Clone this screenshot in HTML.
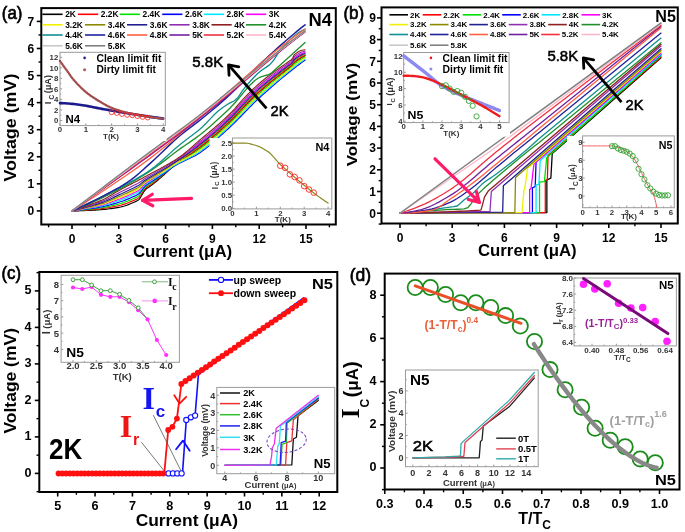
<!DOCTYPE html>
<html><head><meta charset="utf-8"><style>html,body{margin:0;padding:0;background:#fff;}svg{display:block;filter:blur(0.4px);}</style></head>
<body>
<svg width="685" height="532" viewBox="0 0 685 532">
<defs><clipPath id="clipA"><rect x="41.3" y="8.1" width="294.5" height="216.4"/></clipPath><clipPath id="clipB"><rect x="381.5" y="7" width="296.3" height="216.5"/></clipPath></defs>
<rect width="685" height="532" fill="#fff"/>
<g clip-path="url(#clipA)">
<polyline points="72,210.9 73.56,210.89 75.13,210.88 76.69,210.86 78.26,210.82 79.82,210.78 81.39,210.73 82.95,210.68 84.51,210.62 86.08,210.55 87.64,210.48 89.21,210.41 90.77,210.33 92.33,210.25 93.9,210.17 95.46,210.08 97.03,209.99 98.59,209.89 100.16,209.77 101.72,209.64 103.28,209.49 104.85,209.34 106.41,209.17 107.98,208.98 109.54,208.78 111.1,208.57 112.67,208.35 114.23,208.11 115.8,207.86 117.36,207.59 118.93,207.32 120.49,207.02 122.05,206.66 123.62,206.23 125.18,205.73 126.75,205.18 128.31,204.59 129.87,203.97 131.44,203.34 133,202.71 134.57,202.08 136.13,201.37 137.7,200.51 139.26,199.34 140.82,197.03 142.39,194.08 143.95,191.53 145.52,189.59 147.08,188.24 148.65,187.14 150.21,186.15 151.77,185.08 153.34,183.86 154.9,182.59 156.47,181.3 158.03,179.98 159.59,178.63 161.16,177.27 162.72,175.9 164.29,174.47 165.85,173.02 167.42,171.55 168.98,170.11 170.54,168.7 172.11,167.36 173.67,166.09 175.24,164.91 176.8,163.77 178.36,162.66 179.93,161.58 181.49,160.51 183.06,159.44 184.62,158.36 186.19,157.27 187.75,156.17 189.31,155.05 190.88,153.93 192.44,152.8 194.01,151.66 195.57,150.53 197.14,149.4 198.7,148.26 200.26,147.1 201.83,145.91 203.39,144.7 204.96,143.47 206.52,142.22 208.08,140.95 209.65,139.65 211.21,138.35 212.78,137.02 214.34,135.68 215.91,134.32 217.47,132.94 219.03,131.55 220.6,130.15 222.16,128.73 223.73,127.3 225.29,125.85 226.85,124.4 228.42,122.93 229.98,121.45 231.55,119.94 233.11,118.38 234.68,116.77 236.24,115.13 237.8,113.46 239.37,111.78 240.93,110.11 242.5,108.44 244.06,106.79 245.62,105.17 247.19,103.57 248.75,101.97 250.32,100.39 251.88,98.82 253.45,97.28 255.01,95.76 256.57,94.28 258.14,92.83 259.7,91.43 261.27,90.05 262.83,88.7 264.4,87.35 265.96,86.03 267.52,84.72 269.09,83.42 270.65,82.13 272.22,80.86 273.78,79.59 275.34,78.34 276.91,77.1 278.47,75.86 280.04,74.64 281.6,73.42 283.17,72.2 284.73,71 286.29,69.8 287.86,68.6 289.42,67.42 290.99,66.3 292.55,64.82 294.11,62.68 295.68,61.43 297.24,60.27 298.81,59.2 300.37,58.21 301.94,57.31 303.5,56.5 305.06,55.8" stroke="#000000" stroke-width="1.15" fill="none" stroke-linejoin="round" stroke-linecap="round" />
<polyline points="72,210.9 73.56,210.84 75.13,210.78 76.69,210.7 78.26,210.62 79.82,210.53 81.39,210.43 82.95,210.33 84.51,210.22 86.08,210.1 87.64,209.98 89.21,209.86 90.77,209.73 92.33,209.6 93.9,209.48 95.46,209.34 97.03,209.2 98.59,209.05 100.16,208.88 101.72,208.69 103.28,208.49 104.85,208.28 106.41,208.04 107.98,207.79 109.54,207.52 111.1,207.23 112.67,206.94 114.23,206.63 115.8,206.31 117.36,205.98 118.93,205.64 120.49,205.29 122.05,204.88 123.62,204.4 125.18,203.87 126.75,203.29 128.31,202.68 129.87,202.04 131.44,201.4 133,200.75 134.57,200.1 136.13,199.38 137.7,198.52 139.26,197.39 140.82,195.22 142.39,192.49 143.95,190.11 145.52,188.28 147.08,186.98 148.65,185.91 150.21,184.93 151.77,183.88 153.34,182.7 154.9,181.49 156.47,180.25 158.03,178.98 159.59,177.7 161.16,176.4 162.72,175.09 164.29,173.73 165.85,172.35 167.42,170.95 168.98,169.57 170.54,168.22 172.11,166.93 173.67,165.7 175.24,164.54 176.8,163.43 178.36,162.35 179.93,161.29 181.49,160.23 183.06,159.17 184.62,158.1 186.19,157.02 187.75,155.92 189.31,154.81 190.88,153.69 192.44,152.56 194.01,151.43 195.57,150.3 197.14,149.16 198.7,148.01 200.26,146.84 201.83,145.65 203.39,144.44 204.96,143.2 206.52,141.95 208.08,140.68 209.65,139.38 211.21,138.08 212.78,136.75 214.34,135.41 215.91,134.05 217.47,132.68 219.03,131.29 220.6,129.88 222.16,128.47 223.73,127.03 225.29,125.59 226.85,124.14 228.42,122.67 229.98,121.19 231.55,119.68 233.11,118.11 234.68,116.49 236.24,114.85 237.8,113.18 239.37,111.5 240.93,109.81 242.5,108.14 244.06,106.5 245.62,104.88 247.19,103.27 248.75,101.67 250.32,100.09 251.88,98.53 253.45,96.99 255.01,95.47 256.57,93.99 258.14,92.54 259.7,91.14 261.27,89.77 262.83,88.41 264.4,87.07 265.96,85.75 267.52,84.44 269.09,83.15 270.65,81.86 272.22,80.59 273.78,79.34 275.34,78.09 276.91,76.85 278.47,75.62 280.04,74.4 281.6,73.18 283.17,71.97 284.73,70.77 286.29,69.57 287.86,68.38 289.42,67.2 290.99,66.09 292.55,64.6 294.11,62.41 295.68,61.16 297.24,60.01 298.81,58.93 300.37,57.95 301.94,57.07 303.5,56.28 305.06,55.59" stroke="#ff0000" stroke-width="1.15" fill="none" stroke-linejoin="round" stroke-linecap="round" />
<polyline points="72,210.9 73.56,210.79 75.13,210.68 76.69,210.55 78.26,210.42 79.82,210.28 81.39,210.13 82.95,209.97 84.51,209.81 86.08,209.65 87.64,209.48 89.21,209.31 90.77,209.13 92.33,208.96 93.9,208.78 95.46,208.6 97.03,208.41 98.59,208.21 100.16,207.99 101.72,207.75 103.28,207.49 104.85,207.22 106.41,206.91 107.98,206.59 109.54,206.25 111.1,205.89 112.67,205.52 114.23,205.14 115.8,204.75 117.36,204.36 118.93,203.96 120.49,203.55 122.05,203.09 123.62,202.58 125.18,202.01 126.75,201.41 128.31,200.77 129.87,200.11 131.44,199.45 133,198.78 134.57,198.12 136.13,197.39 137.7,196.53 139.26,195.44 140.82,193.42 142.39,190.9 143.95,188.7 145.52,186.98 147.08,185.72 148.65,184.68 150.21,183.71 151.77,182.7 153.34,181.58 154.9,180.44 156.47,179.29 158.03,178.12 159.59,176.95 161.16,175.76 162.72,174.56 164.29,173.32 165.85,172.04 167.42,170.75 168.98,169.47 170.54,168.21 172.11,167 173.67,165.84 175.24,164.77 176.8,163.73 178.36,162.73 179.93,161.76 181.49,160.8 183.06,159.84 184.62,158.88 186.19,157.92 187.75,156.96 189.31,155.98 190.88,154.99 192.44,153.98 194.01,152.96 195.57,151.92 197.14,150.85 198.7,149.76 200.26,148.63 201.83,147.47 203.39,146.28 204.96,145.07 206.52,143.83 208.08,142.57 209.65,141.28 211.21,139.97 212.78,138.64 214.34,137.29 215.91,135.92 217.47,134.54 219.03,133.14 220.6,131.73 222.16,130.31 223.73,128.87 225.29,127.43 226.85,125.97 228.42,124.51 229.98,123.05 231.55,121.55 233.11,120.01 234.68,118.42 236.24,116.81 237.8,115.17 239.37,113.52 240.93,111.86 242.5,110.21 244.06,108.57 245.62,106.95 247.19,105.34 248.75,103.74 250.32,102.16 251.88,100.59 253.45,99.04 255.01,97.52 256.57,96.02 258.14,94.57 259.7,93.15 261.27,91.76 262.83,90.39 264.4,89.03 265.96,87.69 267.52,86.36 269.09,85.03 270.65,83.72 272.22,82.43 273.78,81.14 275.34,79.86 276.91,78.59 278.47,77.33 280.04,76.08 281.6,74.83 283.17,73.6 284.73,72.37 286.29,71.15 287.86,69.93 289.42,68.73 290.99,67.58 292.55,66.17 294.11,64.29 295.68,63.05 297.24,61.88 298.81,60.78 300.37,59.74 301.94,58.76 303.5,57.86 305.06,57.03" stroke="#00e000" stroke-width="1.15" fill="none" stroke-linejoin="round" stroke-linecap="round" />
<polyline points="72,210.9 73.56,210.74 75.13,210.57 76.69,210.4 78.26,210.21 79.82,210.02 81.39,209.83 82.95,209.62 84.51,209.41 86.08,209.2 87.64,208.98 89.21,208.76 90.77,208.54 92.33,208.31 93.9,208.09 95.46,207.86 97.03,207.62 98.59,207.37 100.16,207.1 101.72,206.8 103.28,206.49 104.85,206.16 106.41,205.79 107.98,205.4 109.54,204.99 111.1,204.56 112.67,204.11 114.23,203.66 115.8,203.2 117.36,202.74 118.93,202.28 120.49,201.82 122.05,201.31 123.62,200.75 125.18,200.15 126.75,199.52 128.31,198.86 129.87,198.19 131.44,197.5 133,196.82 134.57,196.13 136.13,195.4 137.7,194.54 139.26,193.48 140.82,191.62 142.39,189.31 143.95,187.28 145.52,185.67 147.08,184.47 148.65,183.45 150.21,182.5 151.77,181.52 153.34,180.48 154.9,179.45 156.47,178.42 158.03,177.4 159.59,176.37 161.16,175.34 162.72,174.3 164.29,173.22 165.85,172.1 167.42,170.95 168.98,169.8 170.54,168.66 172.11,167.57 173.67,166.53 175.24,165.58 176.8,164.67 178.36,163.81 179.93,163 181.49,162.21 183.06,161.45 184.62,160.71 186.19,159.99 187.75,159.27 189.31,158.55 190.88,157.81 192.44,157.05 194.01,156.25 195.57,155.39 197.14,154.48 198.7,153.5 200.26,152.47 201.83,151.38 203.39,150.25 204.96,149.08 206.52,147.86 208.08,146.61 209.65,145.33 211.21,144.02 212.78,142.69 214.34,141.32 215.91,139.94 217.47,138.54 219.03,137.12 220.6,135.69 222.16,134.25 223.73,132.81 225.29,131.36 226.85,129.91 228.42,128.47 229.98,127.02 231.55,125.57 233.11,124.08 234.68,122.56 236.24,121.01 237.8,119.44 239.37,117.85 240.93,116.25 242.5,114.64 244.06,113.02 245.62,111.4 247.19,109.79 248.75,108.18 250.32,106.58 251.88,105 253.45,103.43 255.01,101.89 256.57,100.38 258.14,98.9 259.7,97.46 261.27,96.04 262.83,94.63 264.4,93.23 265.96,91.84 267.52,90.46 269.09,89.08 270.65,87.71 272.22,86.35 273.78,85 275.34,83.65 276.91,82.32 278.47,81 280.04,79.68 281.6,78.38 283.17,77.08 284.73,75.8 286.29,74.52 287.86,73.26 289.42,72 290.99,70.76 292.55,69.53 294.11,68.31 295.68,67.1 297.24,65.91 298.81,64.73 300.37,63.56 301.94,62.4 303.5,61.25 305.06,60.12" stroke="#0000ff" stroke-width="1.15" fill="none" stroke-linejoin="round" stroke-linecap="round" />
<polyline points="72,210.9 73.56,210.69 75.13,210.47 76.69,210.24 78.26,210.01 79.82,209.77 81.39,209.52 82.95,209.27 84.51,209.01 86.08,208.75 87.64,208.48 89.21,208.21 90.77,207.94 92.33,207.67 93.9,207.4 95.46,207.12 97.03,206.83 98.59,206.53 100.16,206.2 101.72,205.86 103.28,205.49 104.85,205.1 106.41,204.66 107.98,204.2 109.54,203.72 111.1,203.22 112.67,202.7 114.23,202.18 115.8,201.65 117.36,201.12 118.93,200.6 120.49,200.08 122.05,199.53 123.62,198.93 125.18,198.3 126.75,197.64 128.31,196.95 129.87,196.26 131.44,195.56 133,194.85 134.57,194.15 136.13,193.4 137.7,192.56 139.26,191.53 140.82,189.82 142.39,187.72 143.95,185.86 145.52,184.36 147.08,183.21 148.65,182.22 150.21,181.28 151.77,180.32 153.34,179.31 154.9,178.31 156.47,177.32 158.03,176.34 159.59,175.35 161.16,174.36 162.72,173.36 164.29,172.32 165.85,171.25 167.42,170.15 168.98,169.04 170.54,167.95 172.11,166.88 173.67,165.87 175.24,164.92 176.8,164.02 178.36,163.15 179.93,162.31 181.49,161.5 183.06,160.71 184.62,159.93 186.19,159.16 187.75,158.38 189.31,157.61 190.88,156.81 192.44,155.99 194.01,155.14 195.57,154.23 197.14,153.27 198.7,152.25 200.26,151.19 201.83,150.08 203.39,148.93 204.96,147.74 206.52,146.52 208.08,145.26 209.65,143.98 211.21,142.67 212.78,141.34 214.34,139.98 215.91,138.6 217.47,137.21 219.03,135.8 220.6,134.37 222.16,132.94 223.73,131.5 225.29,130.05 226.85,128.6 228.42,127.15 229.98,125.7 231.55,124.23 233.11,122.72 234.68,121.18 236.24,119.61 237.8,118.02 239.37,116.41 240.93,114.79 242.5,113.16 244.06,111.54 245.62,109.92 247.19,108.31 248.75,106.7 250.32,105.11 251.88,103.53 253.45,101.97 255.01,100.43 256.57,98.93 258.14,97.46 259.7,96.02 261.27,94.62 262.83,93.22 264.4,91.83 265.96,90.46 267.52,89.09 269.09,87.73 270.65,86.38 272.22,85.04 273.78,83.71 275.34,82.39 276.91,81.08 278.47,79.77 280.04,78.48 281.6,77.2 283.17,75.92 284.73,74.65 286.29,73.4 287.86,72.15 289.42,70.91 290.99,69.7 292.55,68.41 294.11,66.97 295.68,65.75 297.24,64.57 298.81,63.41 300.37,62.28 301.94,61.19 303.5,60.12 305.06,59.09" stroke="#00e8ff" stroke-width="1.15" fill="none" stroke-linejoin="round" stroke-linecap="round" />
<polyline points="72,210.9 73.56,210.65 75.13,210.39 76.69,210.12 78.26,209.85 79.82,209.57 81.39,209.28 82.95,208.99 84.51,208.69 86.08,208.39 87.64,208.08 89.21,207.77 90.77,207.46 92.33,207.15 93.9,206.84 95.46,206.53 97.03,206.2 98.59,205.85 100.16,205.49 101.72,205.1 103.28,204.69 104.85,204.25 106.41,203.76 107.98,203.25 109.54,202.71 111.1,202.15 112.67,201.57 114.23,200.99 115.8,200.41 117.36,199.83 118.93,199.26 120.49,198.69 122.05,198.1 123.62,197.47 125.18,196.81 126.75,196.13 128.31,195.43 129.87,194.72 131.44,194 133,193.28 134.57,192.56 136.13,191.81 137.7,190.97 139.26,189.97 140.82,188.38 142.39,186.45 143.95,184.73 145.52,183.32 147.08,182.21 148.65,181.23 150.21,180.3 151.77,179.33 153.34,178.28 154.9,177.21 156.47,176.13 158.03,175.02 159.59,173.91 161.16,172.78 162.72,171.65 164.29,170.48 165.85,169.3 167.42,168.1 168.98,166.91 170.54,165.73 172.11,164.57 173.67,163.45 175.24,162.35 176.8,161.26 178.36,160.17 179.93,159.08 181.49,157.96 183.06,156.82 184.62,155.64 186.19,154.43 187.75,153.19 189.31,151.93 190.88,150.66 192.44,149.37 194.01,148.09 195.57,146.81 197.14,145.54 198.7,144.27 200.26,143.01 201.83,141.74 203.39,140.47 204.96,139.2 206.52,137.91 208.08,136.63 209.65,135.33 211.21,134.02 212.78,132.7 214.34,131.37 215.91,130.03 217.47,128.68 219.03,127.31 220.6,125.92 222.16,124.52 223.73,123.1 225.29,121.66 226.85,120.2 228.42,118.71 229.98,117.21 231.55,115.66 233.11,114.03 234.68,112.36 236.24,110.64 237.8,108.9 239.37,107.16 240.93,105.43 242.5,103.72 244.06,102.05 245.62,100.43 247.19,98.83 248.75,97.24 250.32,95.67 251.88,94.12 253.45,92.59 255.01,91.09 256.57,89.63 258.14,88.21 259.7,86.83 261.27,85.49 262.83,84.17 264.4,82.87 265.96,81.6 267.52,80.34 269.09,79.1 270.65,77.88 272.22,76.67 273.78,75.48 275.34,74.29 276.91,73.12 278.47,71.95 280.04,70.79 281.6,69.64 283.17,68.49 284.73,67.34 286.29,66.2 287.86,65.05 289.42,63.93 290.99,62.9 292.55,61.24 294.11,58.39 295.68,57.11 297.24,55.98 298.81,54.99 300.37,54.13 301.94,53.43 303.5,52.89 305.06,52.51" stroke="#ff00ff" stroke-width="1.15" fill="none" stroke-linejoin="round" stroke-linecap="round" />
<polyline points="72,210.9 73.56,210.61 75.13,210.31 76.69,210 78.26,209.69 79.82,209.37 81.39,209.04 82.95,208.71 84.51,208.37 86.08,208.02 87.64,207.68 89.21,207.33 90.77,206.98 92.33,206.64 93.9,206.29 95.46,205.93 97.03,205.57 98.59,205.18 100.16,204.78 101.72,204.35 103.28,203.89 104.85,203.4 106.41,202.86 107.98,202.29 109.54,201.69 111.1,201.07 112.67,200.44 114.23,199.8 115.8,199.16 117.36,198.53 118.93,197.92 120.49,197.31 122.05,196.67 123.62,196.01 125.18,195.32 126.75,194.62 128.31,193.9 129.87,193.17 131.44,192.44 133,191.71 134.57,190.98 136.13,190.21 137.7,189.38 139.26,188.41 140.82,186.93 142.39,185.18 143.95,183.59 145.52,182.27 147.08,181.2 148.65,180.25 150.21,179.33 151.77,178.4 153.34,177.45 154.9,176.52 156.47,175.6 158.03,174.69 159.59,173.78 161.16,172.87 162.72,171.95 164.29,171 165.85,170.02 167.42,169.01 168.98,167.99 170.54,166.98 172.11,165.97 173.67,165.01 175.24,164.09 176.8,163.21 178.36,162.35 179.93,161.51 181.49,160.69 183.06,159.87 184.62,159.06 186.19,158.26 187.75,157.44 189.31,156.62 190.88,155.79 192.44,154.92 194.01,154.02 195.57,153.07 197.14,152.06 198.7,151.01 200.26,149.91 201.83,148.78 203.39,147.61 204.96,146.41 206.52,145.17 208.08,143.92 209.65,142.63 211.21,141.32 212.78,139.99 214.34,138.63 215.91,137.26 217.47,135.87 219.03,134.47 220.6,133.05 222.16,131.62 223.73,130.18 225.29,128.74 226.85,127.29 228.42,125.83 229.98,124.37 231.55,122.89 233.11,121.36 234.68,119.8 236.24,118.21 237.8,116.59 239.37,114.96 240.93,113.33 242.5,111.69 244.06,110.06 245.62,108.44 247.19,106.83 248.75,105.22 250.32,103.63 251.88,102.06 253.45,100.5 255.01,98.98 256.57,97.48 258.14,96.01 259.7,94.59 261.27,93.19 262.83,91.81 264.4,90.43 265.96,89.07 267.52,87.72 269.09,86.38 270.65,85.05 272.22,83.73 273.78,82.42 275.34,81.12 276.91,79.83 278.47,78.55 280.04,77.28 281.6,76.01 283.17,74.76 284.73,73.51 286.29,72.27 287.86,71.04 289.42,69.82 290.99,68.64 292.55,67.29 294.11,65.63 295.68,64.4 297.24,63.23 298.81,62.09 300.37,61.01 301.94,59.97 303.5,58.99 305.06,58.06" stroke="#f0f000" stroke-width="1.15" fill="none" stroke-linejoin="round" stroke-linecap="round" />
<polyline points="72,210.9 73.56,210.57 75.13,210.23 76.69,209.88 78.26,209.52 79.82,209.16 81.39,208.8 82.95,208.42 84.51,208.05 86.08,207.66 87.64,207.28 89.21,206.89 90.77,206.5 92.33,206.12 93.9,205.73 95.46,205.34 97.03,204.93 98.59,204.51 100.16,204.06 101.72,203.59 103.28,203.09 104.85,202.55 106.41,201.96 107.98,201.34 109.54,200.68 111.1,200 112.67,199.31 114.23,198.62 115.8,197.92 117.36,197.24 118.93,196.57 120.49,195.92 122.05,195.24 123.62,194.55 125.18,193.84 126.75,193.11 128.31,192.37 129.87,191.63 131.44,190.88 133,190.14 134.57,189.39 136.13,188.62 137.7,187.79 139.26,186.85 140.82,185.49 142.39,183.91 143.95,182.46 145.52,181.23 147.08,180.2 148.65,179.26 150.21,178.35 151.77,177.43 153.34,176.48 154.9,175.52 156.47,174.57 158.03,173.62 159.59,172.67 161.16,171.71 162.72,170.74 164.29,169.74 165.85,168.73 167.42,167.69 168.98,166.65 170.54,165.61 172.11,164.58 173.67,163.57 175.24,162.58 176.8,161.6 178.36,160.63 179.93,159.67 181.49,158.69 183.06,157.69 184.62,156.67 186.19,155.63 187.75,154.57 189.31,153.5 190.88,152.4 192.44,151.29 194.01,150.16 195.57,149.01 197.14,147.83 198.7,146.64 200.26,145.44 201.83,144.22 203.39,142.98 204.96,141.73 206.52,140.47 208.08,139.19 209.65,137.9 211.21,136.59 212.78,135.27 214.34,133.93 215.91,132.58 217.47,131.21 219.03,129.83 220.6,128.43 222.16,127.02 223.73,125.59 225.29,124.15 226.85,122.69 228.42,121.22 229.98,119.73 231.55,118.2 233.11,116.61 234.68,114.98 236.24,113.3 237.8,111.61 239.37,109.91 240.93,108.21 242.5,106.52 244.06,104.86 245.62,103.25 247.19,101.64 248.75,100.05 250.32,98.47 251.88,96.91 253.45,95.37 255.01,93.87 256.57,92.39 258.14,90.95 259.7,89.56 261.27,88.2 262.83,86.86 264.4,85.53 265.96,84.23 267.52,82.94 269.09,81.66 270.65,80.4 272.22,79.16 273.78,77.92 275.34,76.7 276.91,75.48 278.47,74.27 280.04,73.07 281.6,71.88 283.17,70.7 284.73,69.51 286.29,68.34 287.86,67.16 289.42,66 290.99,64.92 292.55,63.37 294.11,60.94 295.68,59.67 297.24,58.53 298.81,57.49 300.37,56.55 301.94,55.73 303.5,55.03 305.06,54.46" stroke="#8a8a00" stroke-width="1.15" fill="none" stroke-linejoin="round" stroke-linecap="round" />
<polyline points="72,210.9 73.56,210.51 75.13,210.12 76.69,209.72 78.26,209.32 79.82,208.91 81.39,208.49 82.95,208.07 84.51,207.64 86.08,207.21 87.64,206.77 89.21,206.34 90.77,205.91 92.33,205.47 93.9,205.04 95.46,204.6 97.03,204.14 98.59,203.67 100.16,203.17 101.72,202.65 103.28,202.09 104.85,201.49 106.41,200.84 107.98,200.14 109.54,199.42 111.1,198.67 112.67,197.9 114.23,197.13 115.8,196.37 117.36,195.62 118.93,194.89 120.49,194.18 122.05,193.46 123.62,192.73 125.18,191.98 126.75,191.23 128.31,190.47 129.87,189.7 131.44,188.94 133,188.17 134.57,187.41 136.13,186.63 137.7,185.8 139.26,184.9 140.82,183.69 142.39,182.32 143.95,181.04 145.52,179.92 147.08,178.94 148.65,178.03 150.21,177.14 151.77,176.23 153.34,175.31 154.9,174.39 156.47,173.48 158.03,172.57 159.59,171.66 161.16,170.74 162.72,169.81 164.29,168.87 165.85,167.9 167.42,166.92 168.98,165.92 170.54,164.92 172.11,163.92 173.67,162.94 175.24,161.96 176.8,160.99 178.36,160.01 179.93,159.03 181.49,158.03 183.06,157 184.62,155.95 186.19,154.87 187.75,153.77 189.31,152.64 190.88,151.5 192.44,150.34 194.01,149.16 195.57,147.96 197.14,146.75 198.7,145.52 200.26,144.29 201.83,143.04 203.39,141.79 204.96,140.53 206.52,139.26 208.08,137.98 209.65,136.68 211.21,135.37 212.78,134.05 214.34,132.72 215.91,131.37 217.47,130.01 219.03,128.63 220.6,127.24 222.16,125.83 223.73,124.41 225.29,122.97 226.85,121.51 228.42,120.03 229.98,118.54 231.55,117 233.11,115.39 234.68,113.74 236.24,112.04 237.8,110.33 239.37,108.61 240.93,106.89 242.5,105.19 244.06,103.53 245.62,101.91 247.19,100.31 248.75,98.72 250.32,97.14 251.88,95.59 253.45,94.06 255.01,92.55 256.57,91.09 258.14,89.65 259.7,88.27 261.27,86.91 262.83,85.58 264.4,84.27 265.96,82.98 267.52,81.71 269.09,80.45 270.65,79.21 272.22,77.98 273.78,76.76 275.34,75.56 276.91,74.36 278.47,73.17 280.04,71.99 281.6,70.82 283.17,69.65 284.73,68.49 286.29,67.32 287.86,66.16 289.42,65.02 290.99,63.97 292.55,62.36 294.11,59.73 295.68,58.46 297.24,57.32 298.81,56.3 300.37,55.41 301.94,54.64 303.5,54.02 305.06,53.54" stroke="#202090" stroke-width="1.15" fill="none" stroke-linejoin="round" stroke-linecap="round" />
<polyline points="72,210.9 73.56,210.45 75.13,210 76.69,209.54 78.26,209.08 79.82,208.61 81.39,208.13 82.95,207.65 84.51,207.16 86.08,206.67 87.64,206.17 89.21,205.68 90.77,205.19 92.33,204.7 93.9,204.21 95.46,203.71 97.03,203.19 98.59,202.66 100.16,202.1 101.72,201.51 103.28,200.89 104.85,200.22 106.41,199.49 107.98,198.71 109.54,197.9 111.1,197.06 112.67,196.21 114.23,195.35 115.8,194.5 117.36,193.68 118.93,192.88 120.49,192.1 122.05,191.32 123.62,190.54 125.18,189.75 126.75,188.96 128.31,188.18 129.87,187.39 131.44,186.6 133,185.82 134.57,185.03 136.13,184.24 137.7,183.42 139.26,182.55 140.82,181.53 142.39,180.41 143.95,179.34 145.52,178.35 147.08,177.44 148.65,176.55 150.21,175.67 151.77,174.79 153.34,173.89 154.9,173 156.47,172.11 158.03,171.21 159.59,170.32 161.16,169.42 162.72,168.51 164.29,167.59 165.85,166.65 167.42,165.7 168.98,164.74 170.54,163.77 172.11,162.79 173.67,161.8 175.24,160.81 176.8,159.8 178.36,158.78 179.93,157.73 181.49,156.65 183.06,155.52 184.62,154.35 186.19,153.14 187.75,151.9 189.31,150.63 190.88,149.34 192.44,148.04 194.01,146.73 195.57,145.41 197.14,144.09 198.7,142.77 200.26,141.47 201.83,140.18 203.39,138.89 204.96,137.59 206.52,136.3 208.08,135.01 209.65,133.71 211.21,132.4 212.78,131.09 214.34,129.76 215.91,128.43 217.47,127.08 219.03,125.72 220.6,124.34 222.16,122.94 223.73,121.52 225.29,120.08 226.85,118.62 228.42,117.13 229.98,115.62 231.55,114.05 233.11,112.41 234.68,110.7 236.24,108.96 237.8,107.2 239.37,105.43 240.93,103.67 242.5,101.94 244.06,100.27 245.62,98.65 247.19,97.05 248.75,95.46 250.32,93.9 251.88,92.35 253.45,90.83 255.01,89.34 256.57,87.89 258.14,86.48 259.7,85.11 261.27,83.78 262.83,82.47 264.4,81.19 265.96,79.94 267.52,78.7 269.09,77.49 270.65,76.29 272.22,75.1 273.78,73.93 275.34,72.77 276.91,71.62 278.47,70.48 280.04,69.35 281.6,68.22 283.17,67.1 284.73,65.97 286.29,64.85 287.86,63.72 289.42,62.62 290.99,61.63 292.55,59.89 294.11,56.78 295.68,55.49 297.24,54.37 298.81,53.41 300.37,52.61 301.94,51.98 303.5,51.53 305.06,51.27" stroke="#9030b0" stroke-width="1.15" fill="none" stroke-linejoin="round" stroke-linecap="round" />
<polyline points="72,210.9 73.56,210.38 75.13,209.86 76.69,209.33 78.26,208.79 79.82,208.25 81.39,207.71 82.95,207.15 84.51,206.6 86.08,206.04 87.64,205.47 89.21,204.91 90.77,204.35 92.33,203.8 93.9,203.24 95.46,202.67 97.03,202.09 98.59,201.48 100.16,200.85 101.72,200.19 103.28,199.49 104.85,198.73 106.41,197.91 107.98,197.04 109.54,196.12 111.1,195.18 112.67,194.23 114.23,193.27 115.8,192.33 117.36,191.41 118.93,190.53 120.49,189.67 122.05,188.82 123.62,187.98 125.18,187.15 126.75,186.32 128.31,185.5 129.87,184.69 131.44,183.88 133,183.07 134.57,182.26 136.13,181.45 137.7,180.64 139.26,179.82 140.82,179 142.39,178.18 143.95,177.36 145.52,176.52 147.08,175.68 148.65,174.83 150.21,173.97 151.77,173.11 153.34,172.26 154.9,171.41 156.47,170.57 158.03,169.73 159.59,168.89 161.16,168.04 162.72,167.19 164.29,166.33 165.85,165.46 167.42,164.58 168.98,163.68 170.54,162.76 172.11,161.83 173.67,160.87 175.24,159.89 176.8,158.88 178.36,157.84 179.93,156.78 181.49,155.66 183.06,154.48 184.62,153.25 186.19,151.97 187.75,150.66 189.31,149.31 190.88,147.94 192.44,146.56 194.01,145.17 195.57,143.78 197.14,142.4 198.7,141.03 200.26,139.68 201.83,138.35 203.39,137.04 204.96,135.72 206.52,134.42 208.08,133.12 209.65,131.81 211.21,130.51 212.78,129.2 214.34,127.88 215.91,126.55 217.47,125.21 219.03,123.86 220.6,122.49 222.16,121.1 223.73,119.68 225.29,118.25 226.85,116.78 228.42,115.29 229.98,113.76 231.55,112.17 233.11,110.51 234.68,108.77 236.24,107 237.8,105.2 239.37,103.4 240.93,101.62 242.5,99.88 244.06,98.19 245.62,96.57 247.19,94.98 248.75,93.39 250.32,91.83 251.88,90.29 253.45,88.78 255.01,87.3 256.57,85.86 258.14,84.45 259.7,83.09 261.27,81.78 262.83,80.49 264.4,79.23 265.96,78 267.52,76.79 269.09,75.6 270.65,74.43 272.22,73.27 273.78,72.13 275.34,71 276.91,69.88 278.47,68.77 280.04,67.67 281.6,66.57 283.17,65.47 284.73,64.37 286.29,63.27 287.86,62.17 289.42,61.09 290.99,60.14 292.55,58.32 294.11,54.91 295.68,53.6 297.24,52.49 298.81,51.56 300.37,50.82 301.94,50.28 303.5,49.95 305.06,49.83" stroke="#902020" stroke-width="1.15" fill="none" stroke-linejoin="round" stroke-linecap="round" />
<polyline points="72,210.9 76.94,208.97 81.88,206.96 86.82,204.87 91.76,202.7 96.7,200.45 101.64,198.12 106.58,195.71 111.52,193.23 116.46,190.67 121.4,188.03 126.34,185.32 131.28,182.52 136.22,179.63 141.16,176.66 146.1,173.59 151.04,170.43 155.98,167.02 160.92,163.39 165.86,159.61 170.8,155.79 175.74,152.02 180.68,148.39 185.62,144.95 190.56,141.59 195.5,138.14 200.44,134.43 205.38,130.43 210.32,126.22 215.26,121.83 220.2,117.31 225.14,112.68 230.08,107.98 235.02,102.76 239.96,96.89 244.9,90.89 249.84,85.28 254.78,80.57 259.72,77.3 264.66,75.55 267.78,75.01 271.68,72.84 305.06,42.52" stroke="#20902a" stroke-width="1.3" fill="none" stroke-linejoin="round" stroke-linecap="round" />
<polyline points="72,210.9 75.95,209.12 79.9,207.3 83.85,205.46 87.8,203.59 91.75,201.69 95.7,199.76 99.65,197.8 103.6,195.81 107.55,193.82 111.5,191.84 115.45,189.86 119.4,187.88 123.35,185.86 127.3,183.79 131.25,181.67 135.2,179.47 139.15,177.18 143.1,174.78 147.05,172.26 151,169.6 154.95,166.62 158.91,163.34 162.86,159.85 166.81,156.24 170.76,152.61 174.71,149.05 178.66,145.64 182.61,142.48 186.56,139.49 190.51,136.57 194.46,133.59 198.41,130.43 202.36,126.93 206.31,122.98 210.26,118.83 214.21,114.76 218.16,111.06 222.11,107.96 226.06,105.29 230.01,102.9 233.96,101.03 237.91,97.65 241.86,91.53 245.81,86.4 249.76,81.77 253.71,77.46 257.66,73.55 261.61,70.21 265.56,67.63 269.51,64.86 273.46,60.55 277.41,54.38 281.36,48.63 285.31,44.42 289.26,40.46 293.21,36.84 297.16,33.65 301.11,31 305.06,28.99" stroke="#109090" stroke-width="1.3" fill="none" stroke-linejoin="round" stroke-linecap="round" />
<polyline points="72,210.9 75.95,209.19 79.9,207.43 83.85,205.61 87.8,203.74 91.75,201.82 95.7,199.86 99.65,197.85 103.6,195.8 107.55,193.74 111.5,191.66 115.45,189.52 119.4,187.29 123.35,184.94 127.3,182.43 131.25,179.71 135.2,176.65 139.15,173.3 143.1,169.77 147.05,166.18 151,162.63 154.95,159 158.91,155.25 162.86,151.45 166.81,147.64 170.76,143.88 174.71,140.23 178.66,136.75 182.61,133.47 186.56,130.4 190.51,127.43 194.46,124.47 198.41,121.42 202.36,118.24 206.31,115.02 210.26,111.76 214.21,108.45 218.16,105.08 222.11,101.64 226.06,98.13 230.01,94.52 233.96,90.74 237.91,86.78 241.86,82.7 245.81,78.55 249.76,74.41 253.71,70.34 257.66,66.4 261.61,62.65 265.56,58.96 269.51,55.31 273.46,51.71 277.41,48.16 281.36,44.65 285.31,41.19 289.26,37.8 293.21,34.45 297.16,31.17 301.11,27.95 305.06,24.79" stroke="#2020a0" stroke-width="1.5" fill="none" stroke-linejoin="round" stroke-linecap="round" />
<polyline points="72,210.9 77.98,207.17 83.95,203.39 89.93,199.56 95.9,195.68 101.88,191.75 107.86,187.77 113.83,183.79 119.81,179.77 125.78,175.71 131.76,171.58 137.74,167.37 143.71,163.06 149.69,158.62 155.66,154.03 161.64,149.29 167.62,144.43 173.59,139.46 179.57,134.41 185.54,129.31 191.52,124.18 197.5,119.05 203.47,113.9 209.45,108.68 215.42,103.39 221.4,98.07 227.38,92.78 233.35,87.51 239.33,82.24 245.3,76.96 251.28,71.72 257.26,66.52 263.23,61.38 269.21,56.24 275.18,51.22 281.16,46.46 287.14,41.9 293.11,37.5 299.09,33.29 305.06,29.26" stroke="#ff6040" stroke-width="1.3" fill="none" stroke-linejoin="round" stroke-linecap="round" />
<polyline points="72,210.9 77.98,206.72 83.95,202.52 89.93,198.31 95.9,194.08 101.88,189.84 107.86,185.58 113.83,181.3 119.81,177.01 125.78,172.71 131.76,168.39 137.74,164.06 143.71,159.72 149.69,155.36 155.66,151.01 161.64,146.65 167.62,142.29 173.59,137.9 179.57,133.48 185.54,129.02 191.52,124.51 197.5,119.93 203.47,115.27 209.45,110.53 215.42,105.71 221.4,100.83 227.38,95.89 233.35,90.9 239.33,85.8 245.3,80.63 251.28,75.46 257.26,70.33 263.23,65.29 269.21,60.28 275.18,55.33 281.16,50.48 287.14,45.72 293.11,41.02 299.09,36.4 305.06,31.86" stroke="#7020a0" stroke-width="1.3" fill="none" stroke-linejoin="round" stroke-linecap="round" />
<polyline points="72,210.9 77.98,206.59 83.95,202.27 89.93,197.95 95.9,193.62 101.88,189.27 107.86,184.92 113.83,180.57 119.81,176.2 125.78,171.83 131.76,167.45 137.74,163.07 143.71,158.68 149.69,154.28 155.66,149.89 161.64,145.52 167.62,141.15 173.59,136.77 179.57,132.37 185.54,127.92 191.52,123.42 197.5,118.84 203.47,114.19 209.45,109.43 215.42,104.6 221.4,99.71 227.38,94.79 233.35,89.85 239.33,84.83 245.3,79.76 251.28,74.69 257.26,69.65 263.23,64.66 269.21,59.69 275.18,54.76 281.16,49.95 287.14,45.23 293.11,40.58 299.09,36.02 305.06,31.53" stroke="#f03040" stroke-width="1.3" fill="none" stroke-linejoin="round" stroke-linecap="round" />
<polyline points="72,210.9 77.98,206.46 83.95,202.02 89.93,197.59 95.9,193.15 101.88,188.71 107.86,184.27 113.83,179.83 119.81,175.4 125.78,170.96 131.76,166.52 137.74,162.08 143.71,157.64 149.69,153.2 155.66,148.78 161.64,144.4 167.62,140.02 173.59,135.65 179.57,131.25 185.54,126.82 191.52,122.33 197.5,117.76 203.47,113.1 209.45,108.34 215.42,103.49 221.4,98.6 227.38,93.69 233.35,88.79 239.33,83.85 245.3,78.89 251.28,73.92 257.26,68.97 263.23,64.04 269.21,59.09 275.18,54.2 281.16,49.42 287.14,44.74 293.11,40.14 299.09,35.63 305.06,31.21" stroke="#ffb8c8" stroke-width="1.3" fill="none" stroke-linejoin="round" stroke-linecap="round" />
<polyline points="72,210.9 77.98,206.37 83.95,201.84 89.93,197.31 95.9,192.8 101.88,188.29 107.86,183.78 113.83,179.28 119.81,174.79 125.78,170.3 131.76,165.82 137.74,161.34 143.71,156.86 149.69,152.39 155.66,147.95 161.64,143.55 167.62,139.18 173.59,134.8 179.57,130.41 185.54,125.99 191.52,121.51 197.5,116.95 203.47,112.29 209.45,107.51 215.42,102.66 221.4,97.76 227.38,92.87 233.35,88 239.33,83.13 245.3,78.24 251.28,73.35 257.26,68.46 263.23,63.57 269.21,58.65 275.18,53.77 281.16,49.02 287.14,44.38 293.11,39.82 299.09,35.34 305.06,30.97" stroke="#c8c8c8" stroke-width="1.3" fill="none" stroke-linejoin="round" stroke-linecap="round" />
<polyline points="72,210.9 77.98,206.33 83.95,201.77 89.93,197.22 95.9,192.68 101.88,188.15 107.86,183.62 113.83,179.1 119.81,174.59 125.78,170.08 131.76,165.58 137.74,161.09 143.71,156.6 149.69,152.12 155.66,147.67 161.64,143.27 167.62,138.89 173.59,134.52 179.57,130.14 185.54,125.71 191.52,121.23 197.5,116.68 203.47,112.02 209.45,107.24 215.42,102.38 221.4,97.49 227.38,92.6 233.35,87.74 239.33,82.88 245.3,78.02 251.28,73.16 257.26,68.29 263.23,63.42 269.21,58.5 275.18,53.63 281.16,48.88 287.14,44.25 293.11,39.71 299.09,35.25 305.06,30.88" stroke="#808080" stroke-width="1.3" fill="none" stroke-linejoin="round" stroke-linecap="round" />
</g>
<rect x="42" y="51" width="124.5" height="90" fill="#fff"/>
<rect x="209.5" y="138" width="124.2" height="85.3" fill="#fff"/>
<rect x="41.3" y="8.1" width="294.5" height="216.4" stroke="#000" stroke-width="2" fill="none"/>
<line x1="72" y1="224.5" x2="72" y2="229" stroke="#000" stroke-width="1.6" />
<line x1="118.8" y1="224.5" x2="118.8" y2="229" stroke="#000" stroke-width="1.6" />
<line x1="165.6" y1="224.5" x2="165.6" y2="229" stroke="#000" stroke-width="1.6" />
<line x1="212.4" y1="224.5" x2="212.4" y2="229" stroke="#000" stroke-width="1.6" />
<line x1="259.2" y1="224.5" x2="259.2" y2="229" stroke="#000" stroke-width="1.6" />
<line x1="306" y1="224.5" x2="306" y2="229" stroke="#000" stroke-width="1.6" />
<line x1="48.6" y1="224.5" x2="48.6" y2="227.3" stroke="#000" stroke-width="1.4" />
<line x1="95.4" y1="224.5" x2="95.4" y2="227.3" stroke="#000" stroke-width="1.4" />
<line x1="142.2" y1="224.5" x2="142.2" y2="227.3" stroke="#000" stroke-width="1.4" />
<line x1="189" y1="224.5" x2="189" y2="227.3" stroke="#000" stroke-width="1.4" />
<line x1="235.8" y1="224.5" x2="235.8" y2="227.3" stroke="#000" stroke-width="1.4" />
<line x1="282.6" y1="224.5" x2="282.6" y2="227.3" stroke="#000" stroke-width="1.4" />
<line x1="329.4" y1="224.5" x2="329.4" y2="227.3" stroke="#000" stroke-width="1.4" />
<line x1="41.3" y1="210.9" x2="36.8" y2="210.9" stroke="#000" stroke-width="1.6" />
<line x1="41.3" y1="183.83" x2="36.8" y2="183.83" stroke="#000" stroke-width="1.6" />
<line x1="41.3" y1="156.76" x2="36.8" y2="156.76" stroke="#000" stroke-width="1.6" />
<line x1="41.3" y1="129.69" x2="36.8" y2="129.69" stroke="#000" stroke-width="1.6" />
<line x1="41.3" y1="102.62" x2="36.8" y2="102.62" stroke="#000" stroke-width="1.6" />
<line x1="41.3" y1="75.55" x2="36.8" y2="75.55" stroke="#000" stroke-width="1.6" />
<line x1="41.3" y1="48.48" x2="36.8" y2="48.48" stroke="#000" stroke-width="1.6" />
<line x1="41.3" y1="21.41" x2="36.8" y2="21.41" stroke="#000" stroke-width="1.6" />
<line x1="41.3" y1="197.37" x2="38.5" y2="197.37" stroke="#000" stroke-width="1.4" />
<line x1="41.3" y1="170.3" x2="38.5" y2="170.3" stroke="#000" stroke-width="1.4" />
<line x1="41.3" y1="143.23" x2="38.5" y2="143.23" stroke="#000" stroke-width="1.4" />
<line x1="41.3" y1="116.16" x2="38.5" y2="116.16" stroke="#000" stroke-width="1.4" />
<line x1="41.3" y1="89.09" x2="38.5" y2="89.09" stroke="#000" stroke-width="1.4" />
<line x1="41.3" y1="62.02" x2="38.5" y2="62.02" stroke="#000" stroke-width="1.4" />
<line x1="41.3" y1="34.94" x2="38.5" y2="34.94" stroke="#000" stroke-width="1.4" />
<text x="72" y="242.6" font-size="12" font-family="Liberation Sans" font-weight="bold" fill="#000" text-anchor="middle" >0</text>
<text x="118.8" y="242.6" font-size="12" font-family="Liberation Sans" font-weight="bold" fill="#000" text-anchor="middle" >3</text>
<text x="165.6" y="242.6" font-size="12" font-family="Liberation Sans" font-weight="bold" fill="#000" text-anchor="middle" >6</text>
<text x="212.4" y="242.6" font-size="12" font-family="Liberation Sans" font-weight="bold" fill="#000" text-anchor="middle" >9</text>
<text x="259.2" y="242.6" font-size="12" font-family="Liberation Sans" font-weight="bold" fill="#000" text-anchor="middle" >12</text>
<text x="306" y="242.6" font-size="12" font-family="Liberation Sans" font-weight="bold" fill="#000" text-anchor="middle" >15</text>
<text x="34.2" y="215.2" font-size="12" font-family="Liberation Sans" font-weight="bold" fill="#000" text-anchor="end" >0</text>
<text x="34.2" y="188.13" font-size="12" font-family="Liberation Sans" font-weight="bold" fill="#000" text-anchor="end" >1</text>
<text x="34.2" y="161.06" font-size="12" font-family="Liberation Sans" font-weight="bold" fill="#000" text-anchor="end" >2</text>
<text x="34.2" y="133.99" font-size="12" font-family="Liberation Sans" font-weight="bold" fill="#000" text-anchor="end" >3</text>
<text x="34.2" y="106.92" font-size="12" font-family="Liberation Sans" font-weight="bold" fill="#000" text-anchor="end" >4</text>
<text x="34.2" y="79.85" font-size="12" font-family="Liberation Sans" font-weight="bold" fill="#000" text-anchor="end" >5</text>
<text x="34.2" y="52.78" font-size="12" font-family="Liberation Sans" font-weight="bold" fill="#000" text-anchor="end" >6</text>
<text x="34.2" y="25.71" font-size="12" font-family="Liberation Sans" font-weight="bold" fill="#000" text-anchor="end" >7</text>
<text x="132.9" y="257.4" font-size="16" font-family="Liberation Sans" font-weight="bold" fill="#000" textLength="99.3" lengthAdjust="spacingAndGlyphs" >Current (&#956;A)</text>
<text x="15.8" y="127.6" font-size="16" font-family="Liberation Sans" font-weight="bold" fill="#000" text-anchor="middle" textLength="107.9" lengthAdjust="spacingAndGlyphs" transform="rotate(-90 15.8 127.6)" >Voltage (mV)</text>
<text x="1.8" y="18.6" font-size="18.5" font-family="Liberation Sans" font-weight="normal" fill="#000" textLength="20.6" lengthAdjust="spacingAndGlyphs" stroke="#000" stroke-width="0.7">(a)</text>
<text x="308.5" y="26.3" font-size="18.5" font-family="Liberation Sans" font-weight="bold" fill="#000" textLength="23.5" lengthAdjust="spacingAndGlyphs" >N4</text>
<line x1="42.4" y1="14.3" x2="62.6" y2="14.3" stroke="#000000" stroke-width="1.6" />
<text x="65.2" y="17.32" font-size="8.4" font-family="Liberation Sans" font-weight="bold" fill="#000" >2K</text>
<line x1="78" y1="14.3" x2="98.2" y2="14.3" stroke="#ff0000" stroke-width="1.6" />
<text x="100.8" y="17.32" font-size="8.4" font-family="Liberation Sans" font-weight="bold" fill="#000" >2.2K</text>
<line x1="119.7" y1="14.3" x2="139.9" y2="14.3" stroke="#00e000" stroke-width="1.6" />
<text x="142.5" y="17.32" font-size="8.4" font-family="Liberation Sans" font-weight="bold" fill="#000" >2.4K</text>
<line x1="162.2" y1="14.3" x2="182.4" y2="14.3" stroke="#0000ff" stroke-width="1.6" />
<text x="185" y="17.32" font-size="8.4" font-family="Liberation Sans" font-weight="bold" fill="#000" >2.6K</text>
<line x1="203.8" y1="14.3" x2="224" y2="14.3" stroke="#00e8ff" stroke-width="1.6" />
<text x="226.6" y="17.32" font-size="8.4" font-family="Liberation Sans" font-weight="bold" fill="#000" >2.8K</text>
<line x1="246" y1="14.3" x2="266.2" y2="14.3" stroke="#ff00ff" stroke-width="1.6" />
<text x="268.8" y="17.32" font-size="8.4" font-family="Liberation Sans" font-weight="bold" fill="#000" >3K</text>
<line x1="42.4" y1="24.8" x2="62.6" y2="24.8" stroke="#f0f000" stroke-width="1.6" />
<text x="65.2" y="27.82" font-size="8.4" font-family="Liberation Sans" font-weight="bold" fill="#000" >3.2K</text>
<line x1="85" y1="24.8" x2="105.2" y2="24.8" stroke="#8a8a00" stroke-width="1.6" />
<text x="107.8" y="27.82" font-size="8.4" font-family="Liberation Sans" font-weight="bold" fill="#000" >3.4K</text>
<line x1="127" y1="24.8" x2="147.2" y2="24.8" stroke="#202090" stroke-width="1.6" />
<text x="149.8" y="27.82" font-size="8.4" font-family="Liberation Sans" font-weight="bold" fill="#000" >3.6K</text>
<line x1="169.4" y1="24.8" x2="189.6" y2="24.8" stroke="#9030b0" stroke-width="1.6" />
<text x="192.2" y="27.82" font-size="8.4" font-family="Liberation Sans" font-weight="bold" fill="#000" >3.8K</text>
<line x1="211.5" y1="24.8" x2="231.7" y2="24.8" stroke="#902020" stroke-width="1.6" />
<text x="234.3" y="27.82" font-size="8.4" font-family="Liberation Sans" font-weight="bold" fill="#000" >4K</text>
<line x1="246" y1="24.8" x2="266.2" y2="24.8" stroke="#20902a" stroke-width="1.6" />
<text x="268.8" y="27.82" font-size="8.4" font-family="Liberation Sans" font-weight="bold" fill="#000" >4.2K</text>
<line x1="42.4" y1="35" x2="62.6" y2="35" stroke="#109090" stroke-width="1.6" />
<text x="65.2" y="38.02" font-size="8.4" font-family="Liberation Sans" font-weight="bold" fill="#000" >4.4K</text>
<line x1="85" y1="35" x2="105.2" y2="35" stroke="#2020a0" stroke-width="1.6" />
<text x="107.8" y="38.02" font-size="8.4" font-family="Liberation Sans" font-weight="bold" fill="#000" >4.6K</text>
<line x1="127" y1="35" x2="147.2" y2="35" stroke="#ff6040" stroke-width="1.6" />
<text x="149.8" y="38.02" font-size="8.4" font-family="Liberation Sans" font-weight="bold" fill="#000" >4.8K</text>
<line x1="169.4" y1="35" x2="189.6" y2="35" stroke="#7020a0" stroke-width="1.6" />
<text x="192.2" y="38.02" font-size="8.4" font-family="Liberation Sans" font-weight="bold" fill="#000" >5K</text>
<line x1="203.8" y1="35" x2="224" y2="35" stroke="#f03040" stroke-width="1.6" />
<text x="226.6" y="38.02" font-size="8.4" font-family="Liberation Sans" font-weight="bold" fill="#000" >5.2K</text>
<line x1="246" y1="35" x2="266.2" y2="35" stroke="#ffb8c8" stroke-width="1.6" />
<text x="268.8" y="38.02" font-size="8.4" font-family="Liberation Sans" font-weight="bold" fill="#000" >5.4K</text>
<line x1="42.4" y1="45.8" x2="62.6" y2="45.8" stroke="#c8c8c8" stroke-width="1.6" />
<text x="65.2" y="48.82" font-size="8.4" font-family="Liberation Sans" font-weight="bold" fill="#000" >5.6K</text>
<line x1="85" y1="45.8" x2="105.2" y2="45.8" stroke="#808080" stroke-width="1.6" />
<text x="107.8" y="48.82" font-size="8.4" font-family="Liberation Sans" font-weight="bold" fill="#000" >5.8K</text>
<text x="192.2" y="66.9" font-size="15.4" font-family="Liberation Sans" font-weight="normal" fill="#000" textLength="31" lengthAdjust="spacingAndGlyphs" stroke="#000" stroke-width="0.55">5.8K</text>
<line x1="266.5" y1="108.4" x2="229.16" y2="65.55" stroke="#000" stroke-width="2.8" />
<polyline points="238.81,66.79 228.5,64.8 229.06,75.28" stroke="#000" stroke-width="2.8" fill="none" stroke-linejoin="round" stroke-linecap="round" stroke-linejoin="miter" stroke-linecap="butt"/>
<text x="270.6" y="116.1" font-size="15.4" font-family="Liberation Sans" font-weight="normal" fill="#000" textLength="18" lengthAdjust="spacingAndGlyphs" stroke="#000" stroke-width="0.55">2K</text>
<line x1="191.6" y1="198.4" x2="142.6" y2="200.4" stroke="#ff1a6a" stroke-width="3.2" stroke-linecap="round"/>
<polyline points="152.32,194.25 142.6,200.4 152.79,205.74" stroke="#ff1a6a" stroke-width="3.2" fill="none" stroke-linejoin="round" stroke-linecap="round" />
<rect x="60" y="52.3" width="105.3" height="73.3" fill="#fff" stroke="#9a9a9a" stroke-width="1"/>
<line x1="60" y1="125.6" x2="60" y2="123.4" stroke="#9a9a9a" stroke-width="1" />
<line x1="85.8" y1="125.6" x2="85.8" y2="123.4" stroke="#9a9a9a" stroke-width="1" />
<line x1="111.6" y1="125.6" x2="111.6" y2="123.4" stroke="#9a9a9a" stroke-width="1" />
<line x1="137.4" y1="125.6" x2="137.4" y2="123.4" stroke="#9a9a9a" stroke-width="1" />
<line x1="163.2" y1="125.6" x2="163.2" y2="123.4" stroke="#9a9a9a" stroke-width="1" />
<line x1="72.9" y1="125.6" x2="72.9" y2="124.28" stroke="#9a9a9a" stroke-width="1" />
<line x1="98.7" y1="125.6" x2="98.7" y2="124.28" stroke="#9a9a9a" stroke-width="1" />
<line x1="124.5" y1="125.6" x2="124.5" y2="124.28" stroke="#9a9a9a" stroke-width="1" />
<line x1="150.3" y1="125.6" x2="150.3" y2="124.28" stroke="#9a9a9a" stroke-width="1" />
<line x1="60" y1="120.5" x2="62.2" y2="120.5" stroke="#9a9a9a" stroke-width="1" />
<line x1="60" y1="109.96" x2="62.2" y2="109.96" stroke="#9a9a9a" stroke-width="1" />
<line x1="60" y1="99.42" x2="62.2" y2="99.42" stroke="#9a9a9a" stroke-width="1" />
<line x1="60" y1="88.88" x2="62.2" y2="88.88" stroke="#9a9a9a" stroke-width="1" />
<line x1="60" y1="78.34" x2="62.2" y2="78.34" stroke="#9a9a9a" stroke-width="1" />
<line x1="60" y1="67.8" x2="62.2" y2="67.8" stroke="#9a9a9a" stroke-width="1" />
<line x1="60" y1="57.26" x2="62.2" y2="57.26" stroke="#9a9a9a" stroke-width="1" />
<line x1="60" y1="115.23" x2="61.32" y2="115.23" stroke="#9a9a9a" stroke-width="1" />
<line x1="60" y1="104.69" x2="61.32" y2="104.69" stroke="#9a9a9a" stroke-width="1" />
<line x1="60" y1="94.15" x2="61.32" y2="94.15" stroke="#9a9a9a" stroke-width="1" />
<line x1="60" y1="83.61" x2="61.32" y2="83.61" stroke="#9a9a9a" stroke-width="1" />
<line x1="60" y1="73.07" x2="61.32" y2="73.07" stroke="#9a9a9a" stroke-width="1" />
<line x1="60" y1="62.53" x2="61.32" y2="62.53" stroke="#9a9a9a" stroke-width="1" />
<text x="60" y="132.2" font-size="7.8" font-family="Liberation Sans" font-weight="bold" fill="#333" text-anchor="middle" >0</text>
<text x="85.8" y="132.2" font-size="7.8" font-family="Liberation Sans" font-weight="bold" fill="#333" text-anchor="middle" >1</text>
<text x="111.6" y="132.2" font-size="7.8" font-family="Liberation Sans" font-weight="bold" fill="#333" text-anchor="middle" >2</text>
<text x="137.4" y="132.2" font-size="7.8" font-family="Liberation Sans" font-weight="bold" fill="#333" text-anchor="middle" >3</text>
<text x="163.2" y="132.2" font-size="7.8" font-family="Liberation Sans" font-weight="bold" fill="#333" text-anchor="middle" >4</text>
<text x="58.3" y="123.31" font-size="7.8" font-family="Liberation Sans" font-weight="bold" fill="#333" text-anchor="end" >0</text>
<text x="58.3" y="112.77" font-size="7.8" font-family="Liberation Sans" font-weight="bold" fill="#333" text-anchor="end" >2</text>
<text x="58.3" y="102.23" font-size="7.8" font-family="Liberation Sans" font-weight="bold" fill="#333" text-anchor="end" >4</text>
<text x="58.3" y="91.69" font-size="7.8" font-family="Liberation Sans" font-weight="bold" fill="#333" text-anchor="end" >6</text>
<text x="58.3" y="81.15" font-size="7.8" font-family="Liberation Sans" font-weight="bold" fill="#333" text-anchor="end" >8</text>
<text x="58.3" y="70.61" font-size="7.8" font-family="Liberation Sans" font-weight="bold" fill="#333" text-anchor="end" >10</text>
<text x="58.3" y="60.07" font-size="7.8" font-family="Liberation Sans" font-weight="bold" fill="#333" text-anchor="end" >12</text>
<text x="111" y="139.3" font-size="8" font-family="Liberation Sans" font-weight="bold" fill="#333" text-anchor="middle" >T(K)</text>
<text x="51.3" y="104.2" font-size="9.5" font-family="Liberation Sans" font-weight="bold" fill="#333" transform="rotate(-90 51.3 104.2)">I</text>
<text x="53.8" y="99.5" font-size="6.5" font-family="Liberation Sans" font-weight="bold" fill="#333" transform="rotate(-90 53.8 99.5)">C</text>
<text x="50.6" y="93.3" font-size="9.2" font-family="Liberation Sans" font-weight="bold" fill="#333" transform="rotate(-90 50.6 93.3)">(&#956;A)</text>
<polyline points="60,103.11 61.75,103.16 63.5,103.23 65.25,103.32 67,103.44 68.75,103.56 70.49,103.7 72.24,103.84 73.99,104 75.74,104.2 77.49,104.42 79.24,104.68 80.99,104.95 82.74,105.23 84.49,105.53 86.24,105.82 87.99,106.13 89.74,106.46 91.48,106.82 93.23,107.18 94.98,107.54 96.73,107.89 98.48,108.23 100.23,108.56 101.98,108.88 103.73,109.2 105.48,109.52 107.23,109.83 108.98,110.14 110.73,110.44 112.47,110.74 114.22,111.04 115.97,111.34 117.72,111.63 119.47,111.93 121.22,112.22 122.97,112.51 124.72,112.79 126.47,113.08 128.22,113.36 129.97,113.64 131.72,113.92 133.46,114.19 135.21,114.47 136.96,114.74 138.71,115.01 140.46,115.28 142.21,115.55 143.96,115.81 145.71,116.07 147.46,116.34 149.21,116.6 150.96,116.85 152.71,117.11 154.45,117.36 156.2,117.61 157.95,117.86 159.7,118.11 161.45,118.36 163.2,118.6" stroke="#1a1a8a" stroke-width="2.6" fill="none" stroke-linejoin="round" stroke-linecap="round" />
<polyline points="60,60.95 61.75,63.47 63.5,65.91 65.25,68.27 67,70.67 68.75,73.17 70.49,75.67 72.24,78.04 73.99,80.18 75.74,82.18 77.49,84.06 79.24,85.87 80.99,87.63 82.74,89.34 84.49,90.94 86.24,92.39 87.99,93.75 89.74,95.04 91.48,96.27 93.23,97.45 94.98,98.59 96.73,99.69 98.48,100.76 100.23,101.82 101.98,102.86 103.73,103.89 105.48,104.87 107.23,105.81 108.98,106.68 110.73,107.48 112.47,108.2 114.22,108.87 115.97,109.49 117.72,110.08 119.47,110.63 121.22,111.16 122.97,111.65 124.72,112.13 126.47,112.58 128.22,113.01 129.97,113.42 131.72,113.81 133.46,114.18 135.21,114.54 136.96,114.88 138.71,115.21 140.46,115.53 142.21,115.83 143.96,116.12 145.71,116.4 147.46,116.67 149.21,116.92 150.96,117.16 152.71,117.4 154.45,117.62 156.2,117.84 157.95,118.05 159.7,118.24 161.45,118.43 163.2,118.6" stroke="#a04848" stroke-width="2.4" fill="none" stroke-linejoin="round" stroke-linecap="round" stroke-dasharray="0.1 1.8"/>
<polyline points="60,60.95 61.75,63.47 63.5,65.91 65.25,68.27 67,70.67 68.75,73.17 70.49,75.67 72.24,78.04 73.99,80.18 75.74,82.18 77.49,84.06 79.24,85.87 80.99,87.63 82.74,89.34 84.49,90.94 86.24,92.39 87.99,93.75 89.74,95.04 91.48,96.27 93.23,97.45 94.98,98.59 96.73,99.69 98.48,100.76 100.23,101.82 101.98,102.86 103.73,103.89 105.48,104.87 107.23,105.81 108.98,106.68 110.73,107.48 112.47,108.2 114.22,108.87 115.97,109.49 117.72,110.08 119.47,110.63 121.22,111.16 122.97,111.65 124.72,112.13 126.47,112.58 128.22,113.01 129.97,113.42 131.72,113.81 133.46,114.18 135.21,114.54 136.96,114.88 138.71,115.21 140.46,115.53 142.21,115.83 143.96,116.12 145.71,116.4 147.46,116.67 149.21,116.92 150.96,117.16 152.71,117.4 154.45,117.62 156.2,117.84 157.95,118.05 159.7,118.24 161.45,118.43 163.2,118.6" stroke="#a85050" stroke-width="1" fill="none" stroke-linejoin="round" stroke-linecap="round" />
<circle cx="111.6" cy="112.33" r="2.4" stroke="#ff2020" stroke-width="0.8" fill="none"/>
<circle cx="116.76" cy="113.02" r="2.4" stroke="#ff2020" stroke-width="0.8" fill="none"/>
<circle cx="121.92" cy="114.07" r="2.4" stroke="#ff2020" stroke-width="0.8" fill="none"/>
<circle cx="127.08" cy="114.91" r="2.4" stroke="#ff2020" stroke-width="0.8" fill="none"/>
<circle cx="132.24" cy="115.34" r="2.4" stroke="#ff2020" stroke-width="0.8" fill="none"/>
<circle cx="137.4" cy="116.18" r="2.4" stroke="#ff2020" stroke-width="0.8" fill="none"/>
<circle cx="142.56" cy="116.97" r="2.4" stroke="#ff2020" stroke-width="0.8" fill="none"/>
<circle cx="147.72" cy="117.6" r="2.4" stroke="#ff2020" stroke-width="0.8" fill="none"/>
<circle cx="84.6" cy="57.9" r="1.3" stroke="none" stroke-width="1" fill="#1a1a8a"/>
<circle cx="84.6" cy="69.7" r="1.5" stroke="none" stroke-width="1" fill="#b05858"/>
<text x="96.5" y="61.6" font-size="10" font-family="Liberation Sans" font-weight="bold" fill="#000" textLength="64.9" lengthAdjust="spacingAndGlyphs" >Clean limit fit</text>
<text x="96.5" y="73.4" font-size="10" font-family="Liberation Sans" font-weight="bold" fill="#000" textLength="59.5" lengthAdjust="spacingAndGlyphs" >Dirty limit fit</text>
<text x="65.6" y="122.9" font-size="10.5" font-family="Liberation Sans" font-weight="bold" fill="#000" textLength="14.6" lengthAdjust="spacingAndGlyphs" >N4</text>
<rect x="232.5" y="138" width="99.3" height="70.9" fill="#fff" stroke="#9a9a9a" stroke-width="1"/>
<line x1="232.5" y1="208.9" x2="232.5" y2="206.7" stroke="#9a9a9a" stroke-width="1" />
<line x1="256.4" y1="208.9" x2="256.4" y2="206.7" stroke="#9a9a9a" stroke-width="1" />
<line x1="280.3" y1="208.9" x2="280.3" y2="206.7" stroke="#9a9a9a" stroke-width="1" />
<line x1="304.2" y1="208.9" x2="304.2" y2="206.7" stroke="#9a9a9a" stroke-width="1" />
<line x1="328.1" y1="208.9" x2="328.1" y2="206.7" stroke="#9a9a9a" stroke-width="1" />
<line x1="244.45" y1="208.9" x2="244.45" y2="207.58" stroke="#9a9a9a" stroke-width="1" />
<line x1="268.35" y1="208.9" x2="268.35" y2="207.58" stroke="#9a9a9a" stroke-width="1" />
<line x1="292.25" y1="208.9" x2="292.25" y2="207.58" stroke="#9a9a9a" stroke-width="1" />
<line x1="316.15" y1="208.9" x2="316.15" y2="207.58" stroke="#9a9a9a" stroke-width="1" />
<line x1="232.5" y1="208.3" x2="234.7" y2="208.3" stroke="#9a9a9a" stroke-width="1" />
<line x1="232.5" y1="195.25" x2="234.7" y2="195.25" stroke="#9a9a9a" stroke-width="1" />
<line x1="232.5" y1="182.2" x2="234.7" y2="182.2" stroke="#9a9a9a" stroke-width="1" />
<line x1="232.5" y1="169.15" x2="234.7" y2="169.15" stroke="#9a9a9a" stroke-width="1" />
<line x1="232.5" y1="156.1" x2="234.7" y2="156.1" stroke="#9a9a9a" stroke-width="1" />
<line x1="232.5" y1="143.05" x2="234.7" y2="143.05" stroke="#9a9a9a" stroke-width="1" />
<line x1="232.5" y1="201.78" x2="233.82" y2="201.78" stroke="#9a9a9a" stroke-width="1" />
<line x1="232.5" y1="188.73" x2="233.82" y2="188.73" stroke="#9a9a9a" stroke-width="1" />
<line x1="232.5" y1="175.68" x2="233.82" y2="175.68" stroke="#9a9a9a" stroke-width="1" />
<line x1="232.5" y1="162.62" x2="233.82" y2="162.62" stroke="#9a9a9a" stroke-width="1" />
<line x1="232.5" y1="149.58" x2="233.82" y2="149.58" stroke="#9a9a9a" stroke-width="1" />
<text x="232.5" y="215.7" font-size="7.8" font-family="Liberation Sans" font-weight="bold" fill="#333" text-anchor="middle" >0</text>
<text x="256.4" y="215.7" font-size="7.8" font-family="Liberation Sans" font-weight="bold" fill="#333" text-anchor="middle" >1</text>
<text x="280.3" y="215.7" font-size="7.8" font-family="Liberation Sans" font-weight="bold" fill="#333" text-anchor="middle" >2</text>
<text x="304.2" y="215.7" font-size="7.8" font-family="Liberation Sans" font-weight="bold" fill="#333" text-anchor="middle" >3</text>
<text x="328.1" y="215.7" font-size="7.8" font-family="Liberation Sans" font-weight="bold" fill="#333" text-anchor="middle" >4</text>
<text x="232" y="211.11" font-size="7.8" font-family="Liberation Sans" font-weight="bold" fill="#333" text-anchor="end" >0.0</text>
<text x="232" y="198.06" font-size="7.8" font-family="Liberation Sans" font-weight="bold" fill="#333" text-anchor="end" >0.5</text>
<text x="232" y="185.01" font-size="7.8" font-family="Liberation Sans" font-weight="bold" fill="#333" text-anchor="end" >1.0</text>
<text x="232" y="171.96" font-size="7.8" font-family="Liberation Sans" font-weight="bold" fill="#333" text-anchor="end" >1.5</text>
<text x="232" y="158.91" font-size="7.8" font-family="Liberation Sans" font-weight="bold" fill="#333" text-anchor="end" >2.0</text>
<text x="232" y="145.86" font-size="7.8" font-family="Liberation Sans" font-weight="bold" fill="#333" text-anchor="end" >2.5</text>
<text x="282.8" y="221.5" font-size="8" font-family="Liberation Sans" font-weight="bold" fill="#333" text-anchor="middle" >T(K)</text>
<text x="217.7" y="189.2" font-size="8.3" font-family="Liberation Sans" font-weight="bold" fill="#333" transform="rotate(-90 217.7 189.2)">I</text>
<text x="219" y="185.8" font-size="6" font-family="Liberation Sans" font-weight="bold" fill="#333" transform="rotate(-90 219 185.8)">C</text>
<text x="217.4" y="178.2" font-size="8.2" font-family="Liberation Sans" font-weight="bold" fill="#333" transform="rotate(-90 217.4 178.2)">(&#956;A)</text>
<polyline points="232.5,143.05 234.12,143.05 235.74,143.05 237.36,143.05 238.98,143.05 240.6,143.05 242.22,143.05 243.84,143.05 245.46,143.08 247.08,143.23 248.7,143.51 250.32,143.87 251.94,144.3 253.56,144.78 255.18,145.28 256.81,145.79 258.43,146.37 260.05,147.06 261.67,147.84 263.29,148.71 264.91,149.66 266.53,150.69 268.15,151.78 269.77,153.04 271.39,154.57 273.01,156.29 274.63,158.14 276.25,160.03 277.87,161.89 279.49,163.64 281.11,165.23 282.73,166.75 284.35,168.22 285.97,169.67 287.59,171.1 289.21,172.51 290.83,173.92 292.45,175.33 294.07,176.74 295.69,178.15 297.31,179.54 298.93,180.93 300.55,182.3 302.17,183.66 303.79,185 305.42,186.32 307.04,187.64 308.66,188.94 310.28,190.23 311.9,191.5 313.52,192.75 315.14,193.97 316.76,195.18 318.38,196.36 320,197.53 321.62,198.68 323.24,199.81 324.86,200.92 326.48,202.01 328.1,203.08" stroke="#8a8a20" stroke-width="1.2" fill="none" stroke-linejoin="round" stroke-linecap="round" />
<circle cx="280.3" cy="165.76" r="2.8" stroke="#ff2020" stroke-width="0.9" fill="none"/>
<circle cx="285.08" cy="167.84" r="2.8" stroke="#ff2020" stroke-width="0.9" fill="none"/>
<circle cx="289.86" cy="174.37" r="2.8" stroke="#ff2020" stroke-width="0.9" fill="none"/>
<circle cx="294.64" cy="176.98" r="2.8" stroke="#ff2020" stroke-width="0.9" fill="none"/>
<circle cx="299.42" cy="180.37" r="2.8" stroke="#ff2020" stroke-width="0.9" fill="none"/>
<circle cx="304.2" cy="186.12" r="2.8" stroke="#ff2020" stroke-width="0.9" fill="none"/>
<circle cx="308.98" cy="189.51" r="2.8" stroke="#ff2020" stroke-width="0.9" fill="none"/>
<circle cx="313.76" cy="192.64" r="2.8" stroke="#ff2020" stroke-width="0.9" fill="none"/>
<text x="315.4" y="151" font-size="10" font-family="Liberation Sans" font-weight="bold" fill="#000" textLength="14" lengthAdjust="spacingAndGlyphs" >N4</text>
<g clip-path="url(#clipB)">
<polyline points="400,213.2 546.86,212.55 546.86,180 550.86,178.05 552.25,153.52 661,57.83" stroke="#000000" stroke-width="1.3" fill="none" stroke-linejoin="round" stroke-linecap="round" />
<polyline points="400,213.2 545.29,212.55 545.29,180.65 547.38,179.56 548.07,155.48 661,56.96" stroke="#ff0000" stroke-width="1.3" fill="none" stroke-linejoin="round" stroke-linecap="round" />
<polyline points="400,213.2 539.55,212.55 539.55,182.17 544.42,181.52 546.68,157.65 661,55.88" stroke="#00e000" stroke-width="1.3" fill="none" stroke-linejoin="round" stroke-linecap="round" />
<polyline points="400,213.2 532.41,212.55 532.41,187.81 535.2,186.51 536.07,161.77 661,54.79" stroke="#0000ff" stroke-width="1.3" fill="none" stroke-linejoin="round" stroke-linecap="round" />
<polyline points="400,213.2 536.07,212.55 536.07,184.99 538.85,184.34 540.24,160.47 661,54.14" stroke="#00e8ff" stroke-width="1.3" fill="none" stroke-linejoin="round" stroke-linecap="round" />
<polyline points="400,213.2 529.63,212.55 529.63,189.33 531.02,188.68 533.98,163.94 661,53.05" stroke="#ff00ff" stroke-width="1.3" fill="none" stroke-linejoin="round" stroke-linecap="round" />
<polyline points="400,213.2 521.97,212.55 524.06,189.33 524.76,188.68 527.54,168.28 661,51.53" stroke="#f0f000" stroke-width="1.3" fill="none" stroke-linejoin="round" stroke-linecap="round" />
<polyline points="400,213.2 514.84,212.55 515.54,177.39 661,50.45" stroke="#8a8a00" stroke-width="1.3" fill="none" stroke-linejoin="round" stroke-linecap="round" />
<polyline points="400,213.2 502.66,212.11 503.36,185.86 661,48.71" stroke="#202090" stroke-width="1.3" fill="none" stroke-linejoin="round" stroke-linecap="round" />
<polyline points="400,213.2 489.96,211.46 491.35,191.5 661,46.11" stroke="#9030b0" stroke-width="1.3" fill="none" stroke-linejoin="round" stroke-linecap="round" />
<polyline points="400,213.2 404.26,213.11 408.52,213.02 412.78,212.91 417.03,212.8 421.29,212.67 425.55,212.54 429.81,212.41 434.07,212.26 438.33,212.11 442.58,211.96 446.84,211.8 451.1,211.64 455.36,211.46 459.62,211.27 463.88,211.07 468.13,210.85 472.39,210.63 476.65,210.4 480.91,210.16 482.3,205.6 484.56,196.92 488.22,191.07 495,185.21 661,44.37" stroke="#902020" stroke-width="1.3" fill="none" stroke-linejoin="round" stroke-linecap="round" />
<polyline points="400,213.2 403.57,212.86 407.14,212.53 410.71,212.22 414.28,211.91 417.85,211.62 421.42,211.34 424.98,211.07 428.55,210.82 432.12,210.57 435.69,210.34 439.26,210.12 442.83,209.9 446.4,209.7 449.97,209.51 453.54,209.37 457.11,209.27 460.68,209.15 464.25,208.92 467.82,207.71 471.38,203.44 474.95,197.51 478.52,193.54 482.09,190.12 485.66,186.83 489.23,183.67 492.8,180.59 496.37,177.53 499.94,174.48 503.51,171.46 507.08,168.45 510.65,165.46 514.22,162.49 517.78,159.54 521.35,156.62 524.92,153.73 528.49,150.86 532.06,148.03 535.63,145.23 539.2,142.46 661,42.64" stroke="#20902a" stroke-width="1.3" fill="none" stroke-linejoin="round" stroke-linecap="round" />
<polyline points="400,213.2 403.57,212.92 407.14,212.61 410.71,212.27 414.28,211.91 417.85,211.54 421.42,211.14 424.98,210.73 428.55,210.29 432.12,209.8 435.69,209.28 439.26,208.73 442.83,208.18 446.4,207.63 449.97,207.12 453.54,206.72 457.11,206 460.68,203.07 464.25,199.75 467.82,197.2 471.38,194.62 474.95,191.43 478.52,187.65 482.09,184.1 485.66,181.31 489.23,178.91 492.8,176.57 496.37,173.99 499.94,171.31 503.51,168.59 507.08,165.82 510.65,163.01 514.22,160.15 517.78,157.24 521.35,154.27 524.92,151.25 528.49,148.17 532.06,145.03 535.63,141.83 539.2,138.55 661,38.08" stroke="#109090" stroke-width="1.3" fill="none" stroke-linejoin="round" stroke-linecap="round" />
<polyline points="400,213.2 403.57,213.1 407.14,212.87 410.71,212.51 414.28,212.06 417.85,211.54 421.42,210.96 424.98,210.35 428.55,209.69 432.12,208.83 435.69,207.8 439.26,206.62 442.83,205.29 446.4,203.86 449.97,202.34 453.54,200.59 457.11,198.52 460.68,196.2 464.25,193.7 467.82,191.09 471.38,188.42 474.95,185.73 478.52,182.85 482.09,179.79 485.66,176.65 489.23,173.48 492.8,170.37 496.37,167.36 499.94,164.39 503.51,161.43 507.08,158.47 510.65,155.53 514.22,152.6 517.78,149.69 521.35,146.78 524.92,143.89 528.49,141.02 532.06,138.15 535.63,135.31 539.2,132.48 661,33.09" stroke="#2020a0" stroke-width="1.3" fill="none" stroke-linejoin="round" stroke-linecap="round" />
<polyline points="400,213.2 403.57,213.16 407.14,213.03 410.71,212.82 414.28,212.53 417.85,212.17 421.42,211.74 424.98,211.24 428.55,210.68 432.12,210.05 435.69,209 439.26,207.05 442.83,204.55 446.4,201.84 449.97,199.29 453.54,196.91 457.11,194.46 460.68,191.95 464.25,189.38 467.82,186.77 471.38,184.1 474.95,181.38 478.52,178.57 482.09,175.68 485.66,172.75 489.23,169.79 492.8,166.84 496.37,163.91 499.94,160.99 503.51,158.06 507.08,155.14 510.65,152.2 514.22,149.27 517.78,146.33 521.35,143.38 524.92,140.43 528.49,137.47 532.06,134.51 535.63,131.54 539.2,128.57 661,27.66" stroke="#ff6040" stroke-width="1.3" fill="none" stroke-linejoin="round" stroke-linecap="round" />
<polyline points="400,213.2 403.57,212.96 407.14,212.53 410.71,211.94 414.28,211.24 417.85,210.45 421.42,209.59 424.98,208.48 428.55,207.11 432.12,205.51 435.69,203.74 439.26,201.82 442.83,199.79 446.4,197.71 449.97,195.6 453.54,193.39 457.11,190.96 460.68,188.35 464.25,185.59 467.82,182.71 471.38,179.72 474.95,176.67 478.52,173.58 482.09,170.48 485.66,167.39 489.23,164.35 492.8,161.39 496.37,158.51 499.94,155.65 503.51,152.8 507.08,149.94 510.65,147.09 514.22,144.23 517.78,141.37 521.35,138.52 524.92,135.66 528.49,132.8 532.06,129.95 535.63,127.09 539.2,124.23 661,26.15" stroke="#7020a0" stroke-width="1.3" fill="none" stroke-linejoin="round" stroke-linecap="round" />
<polyline points="400,213.2 403.57,212.14 407.14,210.98 410.71,209.72 414.28,208.38 417.85,206.95 421.42,205.43 424.98,203.81 428.55,202.08 432.12,200.25 435.69,198.32 439.26,196.3 442.83,194.2 446.4,192.01 449.97,189.74 453.54,187.34 457.11,184.76 460.68,182.02 464.25,179.16 467.82,176.19 471.38,173.14 474.95,170.04 478.52,166.92 482.09,163.79 485.66,160.69 489.23,157.64 492.8,154.66 496.37,151.78 499.94,148.93 503.51,146.08 507.08,143.25 510.65,140.42 514.22,137.61 517.78,134.8 521.35,132 524.92,129.21 528.49,126.43 532.06,123.66 535.63,120.9 539.2,118.15 661,25.28" stroke="#f03040" stroke-width="1.3" fill="none" stroke-linejoin="round" stroke-linecap="round" />
<polyline points="400,213.2 491.35,150.49 661,23.98" stroke="#ffb8c8" stroke-width="1.3" fill="none" stroke-linejoin="round" stroke-linecap="round" />
<polyline points="400,213.2 661,23.32" stroke="#c8c8c8" stroke-width="1.3" fill="none" stroke-linejoin="round" stroke-linecap="round" />
<polyline points="400,213.2 661,22.89" stroke="#808080" stroke-width="1.3" fill="none" stroke-linejoin="round" stroke-linecap="round" />
</g>
<rect x="382.5" y="51.5" width="127.5" height="85.2" fill="#fff"/>
<rect x="567" y="135.9" width="109.8" height="86.6" fill="#fff"/>
<rect x="381.5" y="7.4" width="296.3" height="216.1" stroke="#000" stroke-width="2" fill="none"/>
<line x1="400" y1="223.5" x2="400" y2="228" stroke="#000" stroke-width="1.6" />
<line x1="452.2" y1="223.5" x2="452.2" y2="228" stroke="#000" stroke-width="1.6" />
<line x1="504.4" y1="223.5" x2="504.4" y2="228" stroke="#000" stroke-width="1.6" />
<line x1="556.6" y1="223.5" x2="556.6" y2="228" stroke="#000" stroke-width="1.6" />
<line x1="608.8" y1="223.5" x2="608.8" y2="228" stroke="#000" stroke-width="1.6" />
<line x1="661" y1="223.5" x2="661" y2="228" stroke="#000" stroke-width="1.6" />
<line x1="426.1" y1="223.5" x2="426.1" y2="226.3" stroke="#000" stroke-width="1.4" />
<line x1="478.3" y1="223.5" x2="478.3" y2="226.3" stroke="#000" stroke-width="1.4" />
<line x1="530.5" y1="223.5" x2="530.5" y2="226.3" stroke="#000" stroke-width="1.4" />
<line x1="582.7" y1="223.5" x2="582.7" y2="226.3" stroke="#000" stroke-width="1.4" />
<line x1="634.9" y1="223.5" x2="634.9" y2="226.3" stroke="#000" stroke-width="1.4" />
<line x1="381.5" y1="213.2" x2="377" y2="213.2" stroke="#000" stroke-width="1.6" />
<line x1="381.5" y1="191.5" x2="377" y2="191.5" stroke="#000" stroke-width="1.6" />
<line x1="381.5" y1="169.8" x2="377" y2="169.8" stroke="#000" stroke-width="1.6" />
<line x1="381.5" y1="148.1" x2="377" y2="148.1" stroke="#000" stroke-width="1.6" />
<line x1="381.5" y1="126.4" x2="377" y2="126.4" stroke="#000" stroke-width="1.6" />
<line x1="381.5" y1="104.7" x2="377" y2="104.7" stroke="#000" stroke-width="1.6" />
<line x1="381.5" y1="83" x2="377" y2="83" stroke="#000" stroke-width="1.6" />
<line x1="381.5" y1="61.3" x2="377" y2="61.3" stroke="#000" stroke-width="1.6" />
<line x1="381.5" y1="39.6" x2="377" y2="39.6" stroke="#000" stroke-width="1.6" />
<line x1="381.5" y1="17.9" x2="377" y2="17.9" stroke="#000" stroke-width="1.6" />
<line x1="381.5" y1="202.35" x2="378.7" y2="202.35" stroke="#000" stroke-width="1.4" />
<line x1="381.5" y1="180.65" x2="378.7" y2="180.65" stroke="#000" stroke-width="1.4" />
<line x1="381.5" y1="158.95" x2="378.7" y2="158.95" stroke="#000" stroke-width="1.4" />
<line x1="381.5" y1="137.25" x2="378.7" y2="137.25" stroke="#000" stroke-width="1.4" />
<line x1="381.5" y1="115.55" x2="378.7" y2="115.55" stroke="#000" stroke-width="1.4" />
<line x1="381.5" y1="93.85" x2="378.7" y2="93.85" stroke="#000" stroke-width="1.4" />
<line x1="381.5" y1="72.15" x2="378.7" y2="72.15" stroke="#000" stroke-width="1.4" />
<line x1="381.5" y1="50.45" x2="378.7" y2="50.45" stroke="#000" stroke-width="1.4" />
<line x1="381.5" y1="28.75" x2="378.7" y2="28.75" stroke="#000" stroke-width="1.4" />
<line x1="381.5" y1="224.05" x2="378.7" y2="224.05" stroke="#000" stroke-width="1.4" />
<text x="400" y="241.7" font-size="12" font-family="Liberation Sans" font-weight="bold" fill="#000" text-anchor="middle" >0</text>
<text x="452.2" y="241.7" font-size="12" font-family="Liberation Sans" font-weight="bold" fill="#000" text-anchor="middle" >3</text>
<text x="504.4" y="241.7" font-size="12" font-family="Liberation Sans" font-weight="bold" fill="#000" text-anchor="middle" >6</text>
<text x="556.6" y="241.7" font-size="12" font-family="Liberation Sans" font-weight="bold" fill="#000" text-anchor="middle" >9</text>
<text x="608.8" y="241.7" font-size="12" font-family="Liberation Sans" font-weight="bold" fill="#000" text-anchor="middle" >12</text>
<text x="661" y="241.7" font-size="12" font-family="Liberation Sans" font-weight="bold" fill="#000" text-anchor="middle" >15</text>
<text x="376" y="217.5" font-size="12" font-family="Liberation Sans" font-weight="bold" fill="#000" text-anchor="end" >0</text>
<text x="376" y="195.8" font-size="12" font-family="Liberation Sans" font-weight="bold" fill="#000" text-anchor="end" >1</text>
<text x="376" y="174.1" font-size="12" font-family="Liberation Sans" font-weight="bold" fill="#000" text-anchor="end" >2</text>
<text x="376" y="152.4" font-size="12" font-family="Liberation Sans" font-weight="bold" fill="#000" text-anchor="end" >3</text>
<text x="376" y="130.7" font-size="12" font-family="Liberation Sans" font-weight="bold" fill="#000" text-anchor="end" >4</text>
<text x="376" y="109" font-size="12" font-family="Liberation Sans" font-weight="bold" fill="#000" text-anchor="end" >5</text>
<text x="376" y="87.3" font-size="12" font-family="Liberation Sans" font-weight="bold" fill="#000" text-anchor="end" >6</text>
<text x="376" y="65.6" font-size="12" font-family="Liberation Sans" font-weight="bold" fill="#000" text-anchor="end" >7</text>
<text x="376" y="43.9" font-size="12" font-family="Liberation Sans" font-weight="bold" fill="#000" text-anchor="end" >8</text>
<text x="376" y="22.2" font-size="12" font-family="Liberation Sans" font-weight="bold" fill="#000" text-anchor="end" >9</text>
<text x="478" y="256.2" font-size="16" font-family="Liberation Sans" font-weight="bold" fill="#000" textLength="98.7" lengthAdjust="spacingAndGlyphs" >Current (&#956;A)</text>
<text x="357.3" y="114.5" font-size="15.5" font-family="Liberation Sans" font-weight="bold" fill="#000" text-anchor="middle" textLength="103.7" lengthAdjust="spacingAndGlyphs" transform="rotate(-90 357.3 114.5)" >Voltage (mV)</text>
<text x="343.4" y="19.1" font-size="18.5" font-family="Liberation Sans" font-weight="normal" fill="#000" textLength="20.8" lengthAdjust="spacingAndGlyphs" stroke="#000" stroke-width="0.7">(b)</text>
<text x="655.3" y="21.7" font-size="16.5" font-family="Liberation Sans" font-weight="bold" fill="#000" textLength="20.6" lengthAdjust="spacingAndGlyphs" >N5</text>
<line x1="389.4" y1="14.8" x2="408" y2="14.8" stroke="#000000" stroke-width="1.6" />
<text x="410" y="17.64" font-size="7.9" font-family="Liberation Sans" font-weight="bold" fill="#000" >2K</text>
<line x1="422.7" y1="14.8" x2="441.3" y2="14.8" stroke="#ff0000" stroke-width="1.6" />
<text x="443.3" y="17.64" font-size="7.9" font-family="Liberation Sans" font-weight="bold" fill="#000" >2.2K</text>
<line x1="462.7" y1="14.8" x2="481.3" y2="14.8" stroke="#00e000" stroke-width="1.6" />
<text x="483.3" y="17.64" font-size="7.9" font-family="Liberation Sans" font-weight="bold" fill="#000" >2.4K</text>
<line x1="502.2" y1="14.8" x2="520.8" y2="14.8" stroke="#0000ff" stroke-width="1.6" />
<text x="522.8" y="17.64" font-size="7.9" font-family="Liberation Sans" font-weight="bold" fill="#000" >2.6K</text>
<line x1="541.6" y1="14.8" x2="560.2" y2="14.8" stroke="#00e8ff" stroke-width="1.6" />
<text x="562.2" y="17.64" font-size="7.9" font-family="Liberation Sans" font-weight="bold" fill="#000" >2.8K</text>
<line x1="581.5" y1="14.8" x2="600.1" y2="14.8" stroke="#ff00ff" stroke-width="1.6" />
<text x="602.1" y="17.64" font-size="7.9" font-family="Liberation Sans" font-weight="bold" fill="#000" >3K</text>
<line x1="389.4" y1="24.6" x2="408" y2="24.6" stroke="#f0f000" stroke-width="1.6" />
<text x="410" y="27.44" font-size="7.9" font-family="Liberation Sans" font-weight="bold" fill="#000" >3.2K</text>
<line x1="429.9" y1="24.6" x2="448.5" y2="24.6" stroke="#8a8a00" stroke-width="1.6" />
<text x="450.5" y="27.44" font-size="7.9" font-family="Liberation Sans" font-weight="bold" fill="#000" >3.4K</text>
<line x1="469.3" y1="24.6" x2="487.9" y2="24.6" stroke="#202090" stroke-width="1.6" />
<text x="489.9" y="27.44" font-size="7.9" font-family="Liberation Sans" font-weight="bold" fill="#000" >3.6K</text>
<line x1="508.8" y1="24.6" x2="527.4" y2="24.6" stroke="#9030b0" stroke-width="1.6" />
<text x="529.4" y="27.44" font-size="7.9" font-family="Liberation Sans" font-weight="bold" fill="#000" >3.8K</text>
<line x1="548.2" y1="24.6" x2="566.8" y2="24.6" stroke="#902020" stroke-width="1.6" />
<text x="568.8" y="27.44" font-size="7.9" font-family="Liberation Sans" font-weight="bold" fill="#000" >4K</text>
<line x1="581.5" y1="24.6" x2="600.1" y2="24.6" stroke="#20902a" stroke-width="1.6" />
<text x="602.1" y="27.44" font-size="7.9" font-family="Liberation Sans" font-weight="bold" fill="#000" >4.2K</text>
<line x1="389.4" y1="34.5" x2="408" y2="34.5" stroke="#109090" stroke-width="1.6" />
<text x="410" y="37.34" font-size="7.9" font-family="Liberation Sans" font-weight="bold" fill="#000" >4.4K</text>
<line x1="429.9" y1="34.5" x2="448.5" y2="34.5" stroke="#2020a0" stroke-width="1.6" />
<text x="450.5" y="37.34" font-size="7.9" font-family="Liberation Sans" font-weight="bold" fill="#000" >4.6K</text>
<line x1="469.3" y1="34.5" x2="487.9" y2="34.5" stroke="#ff6040" stroke-width="1.6" />
<text x="489.9" y="37.34" font-size="7.9" font-family="Liberation Sans" font-weight="bold" fill="#000" >4.8K</text>
<line x1="508.8" y1="34.5" x2="527.4" y2="34.5" stroke="#7020a0" stroke-width="1.6" />
<text x="529.4" y="37.34" font-size="7.9" font-family="Liberation Sans" font-weight="bold" fill="#000" >5K</text>
<line x1="541.2" y1="34.5" x2="559.8" y2="34.5" stroke="#f03040" stroke-width="1.6" />
<text x="561.8" y="37.34" font-size="7.9" font-family="Liberation Sans" font-weight="bold" fill="#000" >5.2K</text>
<line x1="581.5" y1="34.5" x2="600.1" y2="34.5" stroke="#ffb8c8" stroke-width="1.6" />
<text x="602.1" y="37.34" font-size="7.9" font-family="Liberation Sans" font-weight="bold" fill="#000" >5.4K</text>
<line x1="389.4" y1="45.2" x2="408" y2="45.2" stroke="#c8c8c8" stroke-width="1.6" />
<text x="410" y="48.04" font-size="7.9" font-family="Liberation Sans" font-weight="bold" fill="#000" >5.6K</text>
<line x1="429.9" y1="45.2" x2="448.5" y2="45.2" stroke="#808080" stroke-width="1.6" />
<text x="450.5" y="48.04" font-size="7.9" font-family="Liberation Sans" font-weight="bold" fill="#000" >5.8K</text>
<text x="547.4" y="60.7" font-size="15.4" font-family="Liberation Sans" font-weight="normal" fill="#000" textLength="30.8" lengthAdjust="spacingAndGlyphs" stroke="#000" stroke-width="0.55">5.8K</text>
<line x1="621.5" y1="102.2" x2="583.95" y2="58.66" stroke="#000" stroke-width="2.8" />
<polyline points="593.6,59.94 583.3,57.9 583.81,68.39" stroke="#000" stroke-width="2.8" fill="none" stroke-linejoin="round" stroke-linecap="round" stroke-linejoin="miter" stroke-linecap="butt"/>
<text x="625.5" y="109.8" font-size="15.4" font-family="Liberation Sans" font-weight="normal" fill="#000" textLength="17.9" lengthAdjust="spacingAndGlyphs" stroke="#000" stroke-width="0.55">2K</text>
<line x1="435" y1="158.8" x2="479.4" y2="202.4" stroke="#ff1a6a" stroke-width="3.2" stroke-linecap="round"/>
<polyline points="468.27,199.52 479.4,202.4 476.32,191.32" stroke="#ff1a6a" stroke-width="3.2" fill="none" stroke-linejoin="round" stroke-linecap="round" />
<rect x="403.7" y="52.5" width="105.4" height="70.1" fill="#fff" stroke="#9a9a9a" stroke-width="1"/>
<line x1="403.7" y1="122.6" x2="403.7" y2="120.4" stroke="#9a9a9a" stroke-width="1" />
<line x1="422.86" y1="122.6" x2="422.86" y2="120.4" stroke="#9a9a9a" stroke-width="1" />
<line x1="442.02" y1="122.6" x2="442.02" y2="120.4" stroke="#9a9a9a" stroke-width="1" />
<line x1="461.18" y1="122.6" x2="461.18" y2="120.4" stroke="#9a9a9a" stroke-width="1" />
<line x1="480.34" y1="122.6" x2="480.34" y2="120.4" stroke="#9a9a9a" stroke-width="1" />
<line x1="499.5" y1="122.6" x2="499.5" y2="120.4" stroke="#9a9a9a" stroke-width="1" />
<line x1="413.28" y1="122.6" x2="413.28" y2="121.28" stroke="#9a9a9a" stroke-width="1" />
<line x1="432.44" y1="122.6" x2="432.44" y2="121.28" stroke="#9a9a9a" stroke-width="1" />
<line x1="451.6" y1="122.6" x2="451.6" y2="121.28" stroke="#9a9a9a" stroke-width="1" />
<line x1="470.76" y1="122.6" x2="470.76" y2="121.28" stroke="#9a9a9a" stroke-width="1" />
<line x1="489.92" y1="122.6" x2="489.92" y2="121.28" stroke="#9a9a9a" stroke-width="1" />
<line x1="403.7" y1="121.3" x2="405.9" y2="121.3" stroke="#9a9a9a" stroke-width="1" />
<line x1="403.7" y1="104.96" x2="405.9" y2="104.96" stroke="#9a9a9a" stroke-width="1" />
<line x1="403.7" y1="88.62" x2="405.9" y2="88.62" stroke="#9a9a9a" stroke-width="1" />
<line x1="403.7" y1="72.28" x2="405.9" y2="72.28" stroke="#9a9a9a" stroke-width="1" />
<line x1="403.7" y1="55.94" x2="405.9" y2="55.94" stroke="#9a9a9a" stroke-width="1" />
<line x1="403.7" y1="113.13" x2="405.02" y2="113.13" stroke="#9a9a9a" stroke-width="1" />
<line x1="403.7" y1="96.79" x2="405.02" y2="96.79" stroke="#9a9a9a" stroke-width="1" />
<line x1="403.7" y1="80.45" x2="405.02" y2="80.45" stroke="#9a9a9a" stroke-width="1" />
<line x1="403.7" y1="64.11" x2="405.02" y2="64.11" stroke="#9a9a9a" stroke-width="1" />
<text x="403.7" y="128.7" font-size="7.8" font-family="Liberation Sans" font-weight="bold" fill="#333" text-anchor="middle" >0</text>
<text x="422.86" y="128.7" font-size="7.8" font-family="Liberation Sans" font-weight="bold" fill="#333" text-anchor="middle" >1</text>
<text x="442.02" y="128.7" font-size="7.8" font-family="Liberation Sans" font-weight="bold" fill="#333" text-anchor="middle" >2</text>
<text x="461.18" y="128.7" font-size="7.8" font-family="Liberation Sans" font-weight="bold" fill="#333" text-anchor="middle" >3</text>
<text x="480.34" y="128.7" font-size="7.8" font-family="Liberation Sans" font-weight="bold" fill="#333" text-anchor="middle" >4</text>
<text x="499.5" y="128.7" font-size="7.8" font-family="Liberation Sans" font-weight="bold" fill="#333" text-anchor="middle" >5</text>
<text x="402.5" y="124.11" font-size="7.8" font-family="Liberation Sans" font-weight="bold" fill="#333" text-anchor="end" >4</text>
<text x="402.5" y="107.77" font-size="7.8" font-family="Liberation Sans" font-weight="bold" fill="#333" text-anchor="end" >6</text>
<text x="402.5" y="91.43" font-size="7.8" font-family="Liberation Sans" font-weight="bold" fill="#333" text-anchor="end" >8</text>
<text x="402.5" y="75.09" font-size="7.8" font-family="Liberation Sans" font-weight="bold" fill="#333" text-anchor="end" >10</text>
<text x="402.5" y="58.75" font-size="7.8" font-family="Liberation Sans" font-weight="bold" fill="#333" text-anchor="end" >12</text>
<text x="451.3" y="135.5" font-size="8" font-family="Liberation Sans" font-weight="bold" fill="#333" text-anchor="middle" >T(K)</text>
<text x="391.8" y="105.5" font-size="7.8" font-family="Liberation Sans" font-weight="bold" fill="#333" transform="rotate(-90 391.8 105.5)">I</text>
<text x="395.2" y="102.5" font-size="6" font-family="Liberation Sans" font-weight="bold" fill="#333" transform="rotate(-90 395.2 102.5)">C</text>
<text x="392.8" y="95.7" font-size="9.2" font-family="Liberation Sans" font-weight="bold" fill="#333" transform="rotate(-90 392.8 95.7)">(&#956;A)</text>
<polyline points="403.7,55.94 405.32,57.17 406.95,58.4 408.57,59.64 410.19,60.88 411.82,62.12 413.44,63.37 415.07,64.62 416.69,65.87 418.31,67.12 419.94,68.38 421.56,69.64 423.18,70.9 424.81,72.2 426.43,73.53 428.06,74.9 429.68,76.27 431.3,77.65 432.93,79.01 434.55,80.34 436.17,81.64 437.8,82.88 439.42,84.05 441.05,85.15 442.67,86.15 444.29,87.11 445.92,88.02 447.54,88.89 449.16,89.74 450.79,90.55 452.41,91.34 454.04,92.1 455.66,92.85 457.28,93.59 458.91,94.31 460.53,95.03 462.15,95.75 463.78,96.44 465.4,97.11 467.03,97.77 468.65,98.41 470.27,99.04 471.9,99.66 473.52,100.28 475.14,100.9 476.77,101.53 478.39,102.15 480.02,102.79 481.64,103.43 483.26,104.08 484.89,104.72 486.51,105.36 488.13,106.01 489.76,106.65 491.38,107.3 493.01,107.94 494.63,108.58 496.25,109.23 497.88,109.87 499.5,110.52" stroke="#8a8af0" stroke-width="3.4" fill="none" stroke-linejoin="round" stroke-linecap="round" />
<polyline points="403.7,75.71 405.32,75.72 406.95,75.76 408.57,75.81 410.19,75.88 411.82,75.96 413.44,76.05 415.07,76.17 416.69,76.34 418.31,76.56 419.94,76.82 421.56,77.1 423.18,77.41 424.81,77.8 426.43,78.27 428.06,78.82 429.68,79.41 431.3,80.02 432.93,80.64 434.55,81.3 436.17,82.01 437.8,82.76 439.42,83.53 441.05,84.31 442.67,85.09 444.29,85.89 445.92,86.69 447.54,87.52 449.16,88.35 450.79,89.19 452.41,90.04 454.04,90.9 455.66,91.76 457.28,92.62 458.91,93.47 460.53,94.33 462.15,95.17 463.78,96.02 465.4,96.86 467.03,97.7 468.65,98.54 470.27,99.38 471.9,100.23 473.52,101.09 475.14,101.95 476.77,102.83 478.39,103.71 480.02,104.61 481.64,105.53 483.26,106.45 484.89,107.39 486.51,108.33 488.13,109.29 489.76,110.25 491.38,111.22 493.01,112.21 494.63,113.2 496.25,114.2 497.88,115.21 499.5,116.23" stroke="#ee1c1c" stroke-width="2.4" fill="none" stroke-linejoin="round" stroke-linecap="round" />
<circle cx="442.02" cy="86.17" r="2.6" stroke="#30a030" stroke-width="0.9" fill="none"/>
<circle cx="445.85" cy="85.35" r="2.6" stroke="#30a030" stroke-width="0.9" fill="none"/>
<circle cx="449.68" cy="88.62" r="2.6" stroke="#30a030" stroke-width="0.9" fill="none"/>
<circle cx="453.52" cy="91.89" r="2.6" stroke="#30a030" stroke-width="0.9" fill="none"/>
<circle cx="457.35" cy="91.07" r="2.6" stroke="#30a030" stroke-width="0.9" fill="none"/>
<circle cx="461.18" cy="92.7" r="2.6" stroke="#30a030" stroke-width="0.9" fill="none"/>
<circle cx="465.01" cy="96.79" r="2.6" stroke="#30a030" stroke-width="0.9" fill="none"/>
<circle cx="468.84" cy="100.88" r="2.6" stroke="#30a030" stroke-width="0.9" fill="none"/>
<circle cx="472.68" cy="105.78" r="2.6" stroke="#30a030" stroke-width="0.9" fill="none"/>
<circle cx="476.51" cy="116.4" r="2.6" stroke="#30a030" stroke-width="0.9" fill="none"/>
<circle cx="430.9" cy="57.9" r="1.3" stroke="none" stroke-width="1" fill="#ee1c1c"/>
<circle cx="430.9" cy="69.1" r="1.5" stroke="none" stroke-width="1" fill="#8a8af0"/>
<text x="442.6" y="61.6" font-size="10" font-family="Liberation Sans" font-weight="bold" fill="#000" textLength="64.9" lengthAdjust="spacingAndGlyphs" >Clean limit fit</text>
<text x="442.6" y="72.8" font-size="10" font-family="Liberation Sans" font-weight="bold" fill="#000" textLength="60.7" lengthAdjust="spacingAndGlyphs" >Dirty limit fit</text>
<text x="407.5" y="118.6" font-size="11" font-family="Liberation Sans" font-weight="bold" fill="#000" textLength="15.8" lengthAdjust="spacingAndGlyphs" >N5</text>
<rect x="582.6" y="135.9" width="91.7" height="71.8" fill="#fff" stroke="#9a9a9a" stroke-width="1"/>
<line x1="582.6" y1="207.7" x2="582.6" y2="205.5" stroke="#9a9a9a" stroke-width="1" />
<line x1="597.32" y1="207.7" x2="597.32" y2="205.5" stroke="#9a9a9a" stroke-width="1" />
<line x1="612.04" y1="207.7" x2="612.04" y2="205.5" stroke="#9a9a9a" stroke-width="1" />
<line x1="626.76" y1="207.7" x2="626.76" y2="205.5" stroke="#9a9a9a" stroke-width="1" />
<line x1="641.48" y1="207.7" x2="641.48" y2="205.5" stroke="#9a9a9a" stroke-width="1" />
<line x1="656.2" y1="207.7" x2="656.2" y2="205.5" stroke="#9a9a9a" stroke-width="1" />
<line x1="670.92" y1="207.7" x2="670.92" y2="205.5" stroke="#9a9a9a" stroke-width="1" />
<line x1="589.96" y1="207.7" x2="589.96" y2="206.38" stroke="#9a9a9a" stroke-width="1" />
<line x1="604.68" y1="207.7" x2="604.68" y2="206.38" stroke="#9a9a9a" stroke-width="1" />
<line x1="619.4" y1="207.7" x2="619.4" y2="206.38" stroke="#9a9a9a" stroke-width="1" />
<line x1="634.12" y1="207.7" x2="634.12" y2="206.38" stroke="#9a9a9a" stroke-width="1" />
<line x1="648.84" y1="207.7" x2="648.84" y2="206.38" stroke="#9a9a9a" stroke-width="1" />
<line x1="663.56" y1="207.7" x2="663.56" y2="206.38" stroke="#9a9a9a" stroke-width="1" />
<line x1="582.6" y1="196" x2="584.8" y2="196" stroke="#9a9a9a" stroke-width="1" />
<line x1="582.6" y1="178.1" x2="584.8" y2="178.1" stroke="#9a9a9a" stroke-width="1" />
<line x1="582.6" y1="160.2" x2="584.8" y2="160.2" stroke="#9a9a9a" stroke-width="1" />
<line x1="582.6" y1="142.3" x2="584.8" y2="142.3" stroke="#9a9a9a" stroke-width="1" />
<line x1="582.6" y1="187.05" x2="583.92" y2="187.05" stroke="#9a9a9a" stroke-width="1" />
<line x1="582.6" y1="169.15" x2="583.92" y2="169.15" stroke="#9a9a9a" stroke-width="1" />
<line x1="582.6" y1="151.25" x2="583.92" y2="151.25" stroke="#9a9a9a" stroke-width="1" />
<line x1="582.6" y1="204.95" x2="583.92" y2="204.95" stroke="#9a9a9a" stroke-width="1" />
<text x="582.6" y="214.6" font-size="7.8" font-family="Liberation Sans" font-weight="bold" fill="#333" text-anchor="middle" >0</text>
<text x="597.32" y="214.6" font-size="7.8" font-family="Liberation Sans" font-weight="bold" fill="#333" text-anchor="middle" >1</text>
<text x="612.04" y="214.6" font-size="7.8" font-family="Liberation Sans" font-weight="bold" fill="#333" text-anchor="middle" >2</text>
<text x="626.76" y="214.6" font-size="7.8" font-family="Liberation Sans" font-weight="bold" fill="#333" text-anchor="middle" >3</text>
<text x="641.48" y="214.6" font-size="7.8" font-family="Liberation Sans" font-weight="bold" fill="#333" text-anchor="middle" >4</text>
<text x="656.2" y="214.6" font-size="7.8" font-family="Liberation Sans" font-weight="bold" fill="#333" text-anchor="middle" >5</text>
<text x="670.92" y="214.6" font-size="7.8" font-family="Liberation Sans" font-weight="bold" fill="#333" text-anchor="middle" >6</text>
<text x="582.6" y="198.81" font-size="7.8" font-family="Liberation Sans" font-weight="bold" fill="#333" text-anchor="end" >0</text>
<text x="582.6" y="180.91" font-size="7.8" font-family="Liberation Sans" font-weight="bold" fill="#333" text-anchor="end" >3</text>
<text x="582.6" y="163.01" font-size="7.8" font-family="Liberation Sans" font-weight="bold" fill="#333" text-anchor="end" >6</text>
<text x="582.6" y="145.1" font-size="7.8" font-family="Liberation Sans" font-weight="bold" fill="#333" text-anchor="end" >9</text>
<text x="629" y="219.4" font-size="8" font-family="Liberation Sans" font-weight="bold" fill="#333" text-anchor="middle" >T(K)</text>
<text x="574.7" y="190" font-size="8.7" font-family="Liberation Sans" font-weight="bold" fill="#333" transform="rotate(-90 574.7 190)">I</text>
<text x="578.3" y="185.9" font-size="6.5" font-family="Liberation Sans" font-weight="bold" fill="#333" transform="rotate(-90 578.3 185.9)">C</text>
<text x="575.4" y="179.7" font-size="8.2" font-family="Liberation Sans" font-weight="bold" fill="#333" transform="rotate(-90 575.4 179.7)">(<tspan font-size="7.4">&#956;A</tspan>)</text>
<polyline points="582.6,145.88 583.86,145.88 585.12,145.88 586.38,145.88 587.64,145.88 588.9,145.88 590.16,145.88 591.42,145.88 592.68,145.88 593.94,145.88 595.2,145.88 596.46,145.88 597.72,145.88 598.98,145.88 600.24,145.88 601.5,145.88 602.76,145.88 604.02,145.88 605.28,145.88 606.54,145.88 607.8,145.88 609.06,145.88 610.32,145.88 611.58,145.88 612.84,145.91 614.1,146.08 615.36,146.37 616.62,146.74 617.88,147.16 619.14,147.58 620.4,148.02 621.66,148.53 622.92,149.12 624.18,149.78 625.44,150.52 626.7,151.33 627.96,152.24 629.22,153.3 630.48,154.51 631.74,155.85 633,157.33 634.26,158.95 635.52,160.9 636.78,163.22 638.04,165.78 639.3,168.44 640.56,171.07 641.82,173.56 643.08,176.02 644.34,178.52 645.6,181 646.86,183.42 648.12,185.76 649.38,187.93 650.64,189.76 651.9,191.62 653.16,193.99 654.42,197.47 655.68,202.18 656.94,207.7" stroke="#f06060" stroke-width="1" fill="none" stroke-linejoin="round" stroke-linecap="round" />
<circle cx="612.04" cy="146.18" r="2.6" stroke="#30a030" stroke-width="0.9" fill="none"/>
<circle cx="614.98" cy="146.18" r="2.6" stroke="#30a030" stroke-width="0.9" fill="none"/>
<circle cx="617.93" cy="148.5" r="2.6" stroke="#30a030" stroke-width="0.9" fill="none"/>
<circle cx="620.87" cy="150.05" r="2.6" stroke="#30a030" stroke-width="0.9" fill="none"/>
<circle cx="623.82" cy="150.77" r="2.6" stroke="#30a030" stroke-width="0.9" fill="none"/>
<circle cx="626.76" cy="151.84" r="2.6" stroke="#30a030" stroke-width="0.9" fill="none"/>
<circle cx="629.7" cy="153.63" r="2.6" stroke="#30a030" stroke-width="0.9" fill="none"/>
<circle cx="632.65" cy="156.02" r="2.6" stroke="#30a030" stroke-width="0.9" fill="none"/>
<circle cx="635.59" cy="160.2" r="2.6" stroke="#30a030" stroke-width="0.9" fill="none"/>
<circle cx="638.54" cy="168.79" r="2.6" stroke="#30a030" stroke-width="0.9" fill="none"/>
<circle cx="641.48" cy="174.22" r="2.6" stroke="#30a030" stroke-width="0.9" fill="none"/>
<circle cx="644.42" cy="179.47" r="2.6" stroke="#30a030" stroke-width="0.9" fill="none"/>
<circle cx="647.37" cy="185.14" r="2.6" stroke="#30a030" stroke-width="0.9" fill="none"/>
<circle cx="650.31" cy="188.48" r="2.6" stroke="#30a030" stroke-width="0.9" fill="none"/>
<circle cx="653.26" cy="191.7" r="2.6" stroke="#30a030" stroke-width="0.9" fill="none"/>
<circle cx="656.2" cy="193.61" r="2.6" stroke="#30a030" stroke-width="0.9" fill="none"/>
<circle cx="659.14" cy="194.93" r="2.6" stroke="#30a030" stroke-width="0.9" fill="none"/>
<circle cx="662.09" cy="195.46" r="2.6" stroke="#30a030" stroke-width="0.9" fill="none"/>
<circle cx="665.03" cy="195.46" r="2.6" stroke="#30a030" stroke-width="0.9" fill="none"/>
<circle cx="667.98" cy="195.28" r="2.6" stroke="#30a030" stroke-width="0.9" fill="none"/>
<text x="658.7" y="148.5" font-size="10" font-family="Liberation Sans" font-weight="bold" fill="#000" textLength="13.7" lengthAdjust="spacingAndGlyphs" >N5</text>
<rect x="39.3" y="272" width="298" height="220" stroke="#000" stroke-width="2" fill="none"/>
<line x1="57.7" y1="492" x2="57.7" y2="496.5" stroke="#000" stroke-width="1.6" />
<line x1="95.06" y1="492" x2="95.06" y2="496.5" stroke="#000" stroke-width="1.6" />
<line x1="132.42" y1="492" x2="132.42" y2="496.5" stroke="#000" stroke-width="1.6" />
<line x1="169.78" y1="492" x2="169.78" y2="496.5" stroke="#000" stroke-width="1.6" />
<line x1="207.14" y1="492" x2="207.14" y2="496.5" stroke="#000" stroke-width="1.6" />
<line x1="244.5" y1="492" x2="244.5" y2="496.5" stroke="#000" stroke-width="1.6" />
<line x1="281.86" y1="492" x2="281.86" y2="496.5" stroke="#000" stroke-width="1.6" />
<line x1="319.22" y1="492" x2="319.22" y2="496.5" stroke="#000" stroke-width="1.6" />
<line x1="76.38" y1="492" x2="76.38" y2="494.8" stroke="#000" stroke-width="1.4" />
<line x1="113.74" y1="492" x2="113.74" y2="494.8" stroke="#000" stroke-width="1.4" />
<line x1="151.1" y1="492" x2="151.1" y2="494.8" stroke="#000" stroke-width="1.4" />
<line x1="188.46" y1="492" x2="188.46" y2="494.8" stroke="#000" stroke-width="1.4" />
<line x1="225.82" y1="492" x2="225.82" y2="494.8" stroke="#000" stroke-width="1.4" />
<line x1="263.18" y1="492" x2="263.18" y2="494.8" stroke="#000" stroke-width="1.4" />
<line x1="300.54" y1="492" x2="300.54" y2="494.8" stroke="#000" stroke-width="1.4" />
<line x1="39.3" y1="473.4" x2="34.8" y2="473.4" stroke="#000" stroke-width="1.6" />
<line x1="39.3" y1="436.9" x2="34.8" y2="436.9" stroke="#000" stroke-width="1.6" />
<line x1="39.3" y1="400.4" x2="34.8" y2="400.4" stroke="#000" stroke-width="1.6" />
<line x1="39.3" y1="363.9" x2="34.8" y2="363.9" stroke="#000" stroke-width="1.6" />
<line x1="39.3" y1="327.4" x2="34.8" y2="327.4" stroke="#000" stroke-width="1.6" />
<line x1="39.3" y1="290.9" x2="34.8" y2="290.9" stroke="#000" stroke-width="1.6" />
<line x1="39.3" y1="455.15" x2="36.5" y2="455.15" stroke="#000" stroke-width="1.4" />
<line x1="39.3" y1="418.65" x2="36.5" y2="418.65" stroke="#000" stroke-width="1.4" />
<line x1="39.3" y1="382.15" x2="36.5" y2="382.15" stroke="#000" stroke-width="1.4" />
<line x1="39.3" y1="345.65" x2="36.5" y2="345.65" stroke="#000" stroke-width="1.4" />
<line x1="39.3" y1="309.15" x2="36.5" y2="309.15" stroke="#000" stroke-width="1.4" />
<line x1="39.3" y1="272.65" x2="36.5" y2="272.65" stroke="#000" stroke-width="1.4" />
<line x1="39.3" y1="491.65" x2="36.5" y2="491.65" stroke="#000" stroke-width="1.4" />
<text x="57.7" y="510" font-size="12.6" font-family="Liberation Sans" font-weight="bold" fill="#000" text-anchor="middle" >5</text>
<text x="95.06" y="510" font-size="12.6" font-family="Liberation Sans" font-weight="bold" fill="#000" text-anchor="middle" >6</text>
<text x="132.42" y="510" font-size="12.6" font-family="Liberation Sans" font-weight="bold" fill="#000" text-anchor="middle" >7</text>
<text x="169.78" y="510" font-size="12.6" font-family="Liberation Sans" font-weight="bold" fill="#000" text-anchor="middle" >8</text>
<text x="207.14" y="510" font-size="12.6" font-family="Liberation Sans" font-weight="bold" fill="#000" text-anchor="middle" >9</text>
<text x="244.5" y="510" font-size="12.6" font-family="Liberation Sans" font-weight="bold" fill="#000" text-anchor="middle" >10</text>
<text x="281.86" y="510" font-size="12.6" font-family="Liberation Sans" font-weight="bold" fill="#000" text-anchor="middle" >11</text>
<text x="319.22" y="510" font-size="12.6" font-family="Liberation Sans" font-weight="bold" fill="#000" text-anchor="middle" >12</text>
<text x="31.4" y="476.9" font-size="12.6" font-family="Liberation Sans" font-weight="bold" fill="#000" text-anchor="end" >0</text>
<text x="31.4" y="440.4" font-size="12.6" font-family="Liberation Sans" font-weight="bold" fill="#000" text-anchor="end" >1</text>
<text x="31.4" y="403.9" font-size="12.6" font-family="Liberation Sans" font-weight="bold" fill="#000" text-anchor="end" >2</text>
<text x="31.4" y="367.4" font-size="12.6" font-family="Liberation Sans" font-weight="bold" fill="#000" text-anchor="end" >3</text>
<text x="31.4" y="330.9" font-size="12.6" font-family="Liberation Sans" font-weight="bold" fill="#000" text-anchor="end" >4</text>
<text x="31.4" y="294.4" font-size="12.6" font-family="Liberation Sans" font-weight="bold" fill="#000" text-anchor="end" >5</text>
<text x="135.7" y="526.1" font-size="16" font-family="Liberation Sans" font-weight="bold" fill="#000" textLength="102.3" lengthAdjust="spacingAndGlyphs" >Current (&#956;A)</text>
<text x="16.4" y="380.8" font-size="16" font-family="Liberation Sans" font-weight="bold" fill="#000" text-anchor="middle" textLength="105.5" lengthAdjust="spacingAndGlyphs" transform="rotate(-90 16.4 380.8)" >Voltage (mV)</text>
<text x="1.4" y="279.4" font-size="18.5" font-family="Liberation Sans" font-weight="normal" fill="#000" textLength="19.6" lengthAdjust="spacingAndGlyphs" stroke="#000" stroke-width="0.7">(c)</text>
<text x="312" y="288.6" font-size="15.5" font-family="Liberation Sans" font-weight="bold" fill="#000" textLength="21" lengthAdjust="spacingAndGlyphs" >N5</text>
<polyline points="57.7,473.4 182.48,473.4 186.3,420 195.1,415.6 198.4,374.7 303.68,297.88" stroke="#1010ff" stroke-width="1.6" fill="none" stroke-linejoin="round" stroke-linecap="round" />
<circle cx="168.5" cy="473.4" r="2.6" stroke="#1010ff" stroke-width="1.1" fill="#fff"/>
<circle cx="172.9" cy="473.4" r="2.6" stroke="#1010ff" stroke-width="1.1" fill="#fff"/>
<circle cx="177.3" cy="473.4" r="2.6" stroke="#1010ff" stroke-width="1.1" fill="#fff"/>
<circle cx="181.6" cy="473.4" r="2.6" stroke="#1010ff" stroke-width="1.1" fill="#fff"/>
<circle cx="186.3" cy="420" r="2.6" stroke="#1010ff" stroke-width="1.1" fill="#fff"/>
<circle cx="190.9" cy="417.3" r="2.6" stroke="#1010ff" stroke-width="1.1" fill="#fff"/>
<circle cx="195.1" cy="415.6" r="2.6" stroke="#1010ff" stroke-width="1.1" fill="#fff"/>
<polyline points="176.1,449.3 182.9,440.6 189.7,450.8" stroke="#1010ff" stroke-width="1.8" fill="none" stroke-linejoin="round" stroke-linecap="round" />
<polyline points="304.28,300.28 181.4,384 176.9,418.6 172.4,426.8 168.2,430 164.3,473.4 57.7,473.4" stroke="#ff1010" stroke-width="1.8" fill="none" stroke-linejoin="round" stroke-linecap="round" />
<circle cx="58.6" cy="473.4" r="3" stroke="none" stroke-width="1" fill="#ff1010"/>
<circle cx="62.34" cy="473.4" r="3" stroke="none" stroke-width="1" fill="#ff1010"/>
<circle cx="66.08" cy="473.4" r="3" stroke="none" stroke-width="1" fill="#ff1010"/>
<circle cx="69.82" cy="473.4" r="3" stroke="none" stroke-width="1" fill="#ff1010"/>
<circle cx="73.56" cy="473.4" r="3" stroke="none" stroke-width="1" fill="#ff1010"/>
<circle cx="77.3" cy="473.4" r="3" stroke="none" stroke-width="1" fill="#ff1010"/>
<circle cx="81.04" cy="473.4" r="3" stroke="none" stroke-width="1" fill="#ff1010"/>
<circle cx="84.78" cy="473.4" r="3" stroke="none" stroke-width="1" fill="#ff1010"/>
<circle cx="88.52" cy="473.4" r="3" stroke="none" stroke-width="1" fill="#ff1010"/>
<circle cx="92.26" cy="473.4" r="3" stroke="none" stroke-width="1" fill="#ff1010"/>
<circle cx="96" cy="473.4" r="3" stroke="none" stroke-width="1" fill="#ff1010"/>
<circle cx="99.74" cy="473.4" r="3" stroke="none" stroke-width="1" fill="#ff1010"/>
<circle cx="103.48" cy="473.4" r="3" stroke="none" stroke-width="1" fill="#ff1010"/>
<circle cx="107.22" cy="473.4" r="3" stroke="none" stroke-width="1" fill="#ff1010"/>
<circle cx="110.96" cy="473.4" r="3" stroke="none" stroke-width="1" fill="#ff1010"/>
<circle cx="114.7" cy="473.4" r="3" stroke="none" stroke-width="1" fill="#ff1010"/>
<circle cx="118.44" cy="473.4" r="3" stroke="none" stroke-width="1" fill="#ff1010"/>
<circle cx="122.18" cy="473.4" r="3" stroke="none" stroke-width="1" fill="#ff1010"/>
<circle cx="125.92" cy="473.4" r="3" stroke="none" stroke-width="1" fill="#ff1010"/>
<circle cx="129.66" cy="473.4" r="3" stroke="none" stroke-width="1" fill="#ff1010"/>
<circle cx="133.4" cy="473.4" r="3" stroke="none" stroke-width="1" fill="#ff1010"/>
<circle cx="137.14" cy="473.4" r="3" stroke="none" stroke-width="1" fill="#ff1010"/>
<circle cx="140.88" cy="473.4" r="3" stroke="none" stroke-width="1" fill="#ff1010"/>
<circle cx="144.62" cy="473.4" r="3" stroke="none" stroke-width="1" fill="#ff1010"/>
<circle cx="148.36" cy="473.4" r="3" stroke="none" stroke-width="1" fill="#ff1010"/>
<circle cx="152.1" cy="473.4" r="3" stroke="none" stroke-width="1" fill="#ff1010"/>
<circle cx="155.84" cy="473.4" r="3" stroke="none" stroke-width="1" fill="#ff1010"/>
<circle cx="159.58" cy="473.4" r="3" stroke="none" stroke-width="1" fill="#ff1010"/>
<circle cx="163.32" cy="473.4" r="3" stroke="none" stroke-width="1" fill="#ff1010"/>
<circle cx="168.2" cy="430" r="2.9" stroke="none" stroke-width="1" fill="#ff1010"/>
<circle cx="172.4" cy="426.8" r="2.9" stroke="none" stroke-width="1" fill="#ff1010"/>
<circle cx="176.9" cy="418.6" r="2.9" stroke="none" stroke-width="1" fill="#ff1010"/>
<circle cx="181.4" cy="383.9" r="3" stroke="none" stroke-width="1" fill="#ff1010"/>
<circle cx="185.5" cy="381.11" r="3" stroke="none" stroke-width="1" fill="#ff1010"/>
<circle cx="189.6" cy="378.33" r="3" stroke="none" stroke-width="1" fill="#ff1010"/>
<circle cx="193.7" cy="375.54" r="3" stroke="none" stroke-width="1" fill="#ff1010"/>
<circle cx="197.8" cy="372.75" r="3" stroke="none" stroke-width="1" fill="#ff1010"/>
<circle cx="201.9" cy="369.96" r="3" stroke="none" stroke-width="1" fill="#ff1010"/>
<circle cx="206" cy="367.17" r="3" stroke="none" stroke-width="1" fill="#ff1010"/>
<circle cx="210.1" cy="364.38" r="3" stroke="none" stroke-width="1" fill="#ff1010"/>
<circle cx="214.2" cy="361.59" r="3" stroke="none" stroke-width="1" fill="#ff1010"/>
<circle cx="218.3" cy="358.8" r="3" stroke="none" stroke-width="1" fill="#ff1010"/>
<circle cx="222.4" cy="356.01" r="3" stroke="none" stroke-width="1" fill="#ff1010"/>
<circle cx="226.5" cy="353.22" r="3" stroke="none" stroke-width="1" fill="#ff1010"/>
<circle cx="230.6" cy="350.44" r="3" stroke="none" stroke-width="1" fill="#ff1010"/>
<circle cx="234.7" cy="347.65" r="3" stroke="none" stroke-width="1" fill="#ff1010"/>
<circle cx="238.8" cy="344.86" r="3" stroke="none" stroke-width="1" fill="#ff1010"/>
<circle cx="242.9" cy="342.07" r="3" stroke="none" stroke-width="1" fill="#ff1010"/>
<circle cx="247" cy="339.28" r="3" stroke="none" stroke-width="1" fill="#ff1010"/>
<circle cx="251.1" cy="336.49" r="3" stroke="none" stroke-width="1" fill="#ff1010"/>
<circle cx="255.2" cy="333.7" r="3" stroke="none" stroke-width="1" fill="#ff1010"/>
<circle cx="259.3" cy="330.91" r="3" stroke="none" stroke-width="1" fill="#ff1010"/>
<circle cx="263.4" cy="328.12" r="3" stroke="none" stroke-width="1" fill="#ff1010"/>
<circle cx="267.5" cy="325.34" r="3" stroke="none" stroke-width="1" fill="#ff1010"/>
<circle cx="271.6" cy="322.55" r="3" stroke="none" stroke-width="1" fill="#ff1010"/>
<circle cx="275.7" cy="319.76" r="3" stroke="none" stroke-width="1" fill="#ff1010"/>
<circle cx="279.8" cy="316.97" r="3" stroke="none" stroke-width="1" fill="#ff1010"/>
<circle cx="283.9" cy="314.18" r="3" stroke="none" stroke-width="1" fill="#ff1010"/>
<circle cx="288" cy="311.39" r="3" stroke="none" stroke-width="1" fill="#ff1010"/>
<circle cx="292.1" cy="308.6" r="3" stroke="none" stroke-width="1" fill="#ff1010"/>
<circle cx="296.2" cy="305.81" r="3" stroke="none" stroke-width="1" fill="#ff1010"/>
<circle cx="300.3" cy="303.02" r="3" stroke="none" stroke-width="1" fill="#ff1010"/>
<circle cx="304.4" cy="300.23" r="3" stroke="none" stroke-width="1" fill="#ff1010"/>
<polyline points="174.3,395.2 179.5,403.6 186.2,396.8" stroke="#ff1010" stroke-width="1.8" fill="none" stroke-linejoin="round" stroke-linecap="round" />
<line x1="141.5" y1="442.3" x2="164" y2="470.7" stroke="#555" stroke-width="0.8" />
<line x1="153.3" y1="415.2" x2="180.9" y2="470.7" stroke="#555" stroke-width="0.8" />
<text x="142.5" y="409.2" font-size="32" font-family="Liberation Serif" font-weight="bold" fill="#1515ee" >I</text>
<text x="155.8" y="416.7" font-size="17" font-family="Liberation Sans" font-weight="bold" fill="#1515ee" >c</text>
<text x="119.8" y="436.9" font-size="32" font-family="Liberation Serif" font-weight="bold" fill="#ee1515" >I</text>
<text x="133" y="444.8" font-size="16" font-family="Liberation Sans" font-weight="bold" fill="#ee1515" >r</text>
<text x="49" y="459.2" font-size="29" font-family="Liberation Sans" font-weight="bold" fill="#000" textLength="33.2" lengthAdjust="spacingAndGlyphs" >2K</text>
<line x1="208.9" y1="279.9" x2="233" y2="279.9" stroke="#1010ff" stroke-width="1.8" />
<circle cx="221" cy="279.9" r="2.6" stroke="#1010ff" stroke-width="1.1" fill="#fff"/>
<text x="233.5" y="283.6" font-size="10.5" font-family="Liberation Sans" font-weight="bold" fill="#000" textLength="47.7" lengthAdjust="spacingAndGlyphs" >up sweep</text>
<line x1="208.9" y1="293.2" x2="233" y2="293.2" stroke="#ff1010" stroke-width="1.8" />
<circle cx="221" cy="293.2" r="2.9" stroke="none" stroke-width="1" fill="#ff1010"/>
<text x="233.5" y="296.9" font-size="10.5" font-family="Liberation Sans" font-weight="bold" fill="#000" textLength="62.6" lengthAdjust="spacingAndGlyphs" >down sweep</text>
<rect x="61.1" y="275.3" width="118.3" height="87" fill="#fff" stroke="#9a9a9a" stroke-width="1"/>
<line x1="73" y1="362.3" x2="73" y2="360.1" stroke="#9a9a9a" stroke-width="1" />
<line x1="96.3" y1="362.3" x2="96.3" y2="360.1" stroke="#9a9a9a" stroke-width="1" />
<line x1="119.6" y1="362.3" x2="119.6" y2="360.1" stroke="#9a9a9a" stroke-width="1" />
<line x1="142.9" y1="362.3" x2="142.9" y2="360.1" stroke="#9a9a9a" stroke-width="1" />
<line x1="166.2" y1="362.3" x2="166.2" y2="360.1" stroke="#9a9a9a" stroke-width="1" />
<line x1="84.65" y1="362.3" x2="84.65" y2="360.98" stroke="#9a9a9a" stroke-width="1" />
<line x1="107.95" y1="362.3" x2="107.95" y2="360.98" stroke="#9a9a9a" stroke-width="1" />
<line x1="131.25" y1="362.3" x2="131.25" y2="360.98" stroke="#9a9a9a" stroke-width="1" />
<line x1="154.55" y1="362.3" x2="154.55" y2="360.98" stroke="#9a9a9a" stroke-width="1" />
<line x1="61.1" y1="349.3" x2="63.3" y2="349.3" stroke="#9a9a9a" stroke-width="1" />
<line x1="61.1" y1="333.1" x2="63.3" y2="333.1" stroke="#9a9a9a" stroke-width="1" />
<line x1="61.1" y1="316.9" x2="63.3" y2="316.9" stroke="#9a9a9a" stroke-width="1" />
<line x1="61.1" y1="300.7" x2="63.3" y2="300.7" stroke="#9a9a9a" stroke-width="1" />
<line x1="61.1" y1="284.5" x2="63.3" y2="284.5" stroke="#9a9a9a" stroke-width="1" />
<line x1="61.1" y1="341.2" x2="62.42" y2="341.2" stroke="#9a9a9a" stroke-width="1" />
<line x1="61.1" y1="325" x2="62.42" y2="325" stroke="#9a9a9a" stroke-width="1" />
<line x1="61.1" y1="308.8" x2="62.42" y2="308.8" stroke="#9a9a9a" stroke-width="1" />
<line x1="61.1" y1="292.6" x2="62.42" y2="292.6" stroke="#9a9a9a" stroke-width="1" />
<text x="73" y="368.8" font-size="9.5" font-family="Liberation Sans" font-weight="bold" fill="#333" text-anchor="middle" >2.0</text>
<text x="96.3" y="368.8" font-size="9.5" font-family="Liberation Sans" font-weight="bold" fill="#333" text-anchor="middle" >2.5</text>
<text x="119.6" y="368.8" font-size="9.5" font-family="Liberation Sans" font-weight="bold" fill="#333" text-anchor="middle" >3.0</text>
<text x="142.9" y="368.8" font-size="9.5" font-family="Liberation Sans" font-weight="bold" fill="#333" text-anchor="middle" >3.5</text>
<text x="166.2" y="368.8" font-size="9.5" font-family="Liberation Sans" font-weight="bold" fill="#333" text-anchor="middle" >4.0</text>
<text x="59" y="352.72" font-size="9.5" font-family="Liberation Sans" font-weight="bold" fill="#333" text-anchor="end" >4</text>
<text x="59" y="336.52" font-size="9.5" font-family="Liberation Sans" font-weight="bold" fill="#333" text-anchor="end" >5</text>
<text x="59" y="320.32" font-size="9.5" font-family="Liberation Sans" font-weight="bold" fill="#333" text-anchor="end" >6</text>
<text x="59" y="304.12" font-size="9.5" font-family="Liberation Sans" font-weight="bold" fill="#333" text-anchor="end" >7</text>
<text x="59" y="287.92" font-size="9.5" font-family="Liberation Sans" font-weight="bold" fill="#333" text-anchor="end" >8</text>
<text x="122.2" y="380" font-size="9.5" font-family="Liberation Sans" font-weight="bold" fill="#333" text-anchor="middle" >T(K)</text>
<text x="49.8" y="322" font-size="9.5" font-family="Liberation Sans" font-weight="bold" fill="#333" text-anchor="middle" transform="rotate(-90 49.8 322)"><tspan font-size="11">I</tspan> (&#956;A)</text>
<polyline points="73,287.5 82.32,289 91.64,287 100.96,294.8 110.28,296.8 119.6,296.8 128.92,302.1 138.24,310.2 147.56,319.3 156.88,340 166.2,355" stroke="#ff30ff" stroke-width="1" fill="none" stroke-linejoin="round" stroke-linecap="round" />
<polyline points="73,279.7 82.32,279.7 91.64,285 100.96,290.7 110.28,290.7 119.6,294.3 128.92,300.4 138.24,307.8 147.56,319.3" stroke="#40a040" stroke-width="1" fill="none" stroke-linejoin="round" stroke-linecap="round" />
<circle cx="73" cy="287.5" r="2.1" stroke="none" stroke-width="1" fill="#ff30ff"/>
<circle cx="82.32" cy="289" r="2.1" stroke="none" stroke-width="1" fill="#ff30ff"/>
<circle cx="91.64" cy="287" r="2.1" stroke="none" stroke-width="1" fill="#ff30ff"/>
<circle cx="100.96" cy="294.8" r="2.1" stroke="none" stroke-width="1" fill="#ff30ff"/>
<circle cx="110.28" cy="296.8" r="2.1" stroke="none" stroke-width="1" fill="#ff30ff"/>
<circle cx="119.6" cy="296.8" r="2.1" stroke="none" stroke-width="1" fill="#ff30ff"/>
<circle cx="128.92" cy="302.1" r="2.1" stroke="none" stroke-width="1" fill="#ff30ff"/>
<circle cx="138.24" cy="310.2" r="2.1" stroke="none" stroke-width="1" fill="#ff30ff"/>
<circle cx="147.56" cy="319.3" r="2.1" stroke="none" stroke-width="1" fill="#ff30ff"/>
<circle cx="156.88" cy="340" r="2.1" stroke="none" stroke-width="1" fill="#ff30ff"/>
<circle cx="166.2" cy="355" r="2.1" stroke="none" stroke-width="1" fill="#ff30ff"/>
<circle cx="73" cy="279.7" r="1.9" stroke="#40a040" stroke-width="1" fill="#fff"/>
<circle cx="82.32" cy="279.7" r="1.9" stroke="#40a040" stroke-width="1" fill="#fff"/>
<circle cx="91.64" cy="285" r="1.9" stroke="#40a040" stroke-width="1" fill="#fff"/>
<circle cx="100.96" cy="290.7" r="1.9" stroke="#40a040" stroke-width="1" fill="#fff"/>
<circle cx="110.28" cy="290.7" r="1.9" stroke="#40a040" stroke-width="1" fill="#fff"/>
<circle cx="119.6" cy="294.3" r="1.9" stroke="#40a040" stroke-width="1" fill="#fff"/>
<circle cx="128.92" cy="300.4" r="1.9" stroke="#40a040" stroke-width="1" fill="#fff"/>
<circle cx="138.24" cy="307.8" r="1.9" stroke="#40a040" stroke-width="1" fill="#fff"/>
<line x1="141.8" y1="281.8" x2="168" y2="281.8" stroke="#80b880" stroke-width="1" />
<circle cx="154.5" cy="281.8" r="1.9" stroke="#40a040" stroke-width="1" fill="#fff"/>
<line x1="141.8" y1="300.9" x2="168" y2="300.9" stroke="#f090f0" stroke-width="1" />
<circle cx="154.7" cy="300.9" r="2.3" stroke="none" stroke-width="1" fill="#ff30ff"/>
<text x="168" y="285.9" font-size="12" font-family="Liberation Serif" font-weight="bold" fill="#111" >I</text>
<text x="172.3" y="290.4" font-size="9.8" font-family="Liberation Serif" font-weight="bold" fill="#111" >c</text>
<text x="168" y="304.7" font-size="12" font-family="Liberation Serif" font-weight="bold" fill="#111" >I</text>
<text x="172.3" y="309.6" font-size="9.8" font-family="Liberation Serif" font-weight="bold" fill="#111" >r</text>
<text x="66.2" y="357" font-size="13" font-family="Liberation Sans" font-weight="bold" fill="#000" textLength="17.6" lengthAdjust="spacingAndGlyphs" >N5</text>
<rect x="216.8" y="387.4" width="117.9" height="86.3" fill="#fff" stroke="#9a9a9a" stroke-width="1"/>
<line x1="224.8" y1="473.7" x2="224.8" y2="471.5" stroke="#9a9a9a" stroke-width="1" />
<line x1="255.96" y1="473.7" x2="255.96" y2="471.5" stroke="#9a9a9a" stroke-width="1" />
<line x1="287.12" y1="473.7" x2="287.12" y2="471.5" stroke="#9a9a9a" stroke-width="1" />
<line x1="318.28" y1="473.7" x2="318.28" y2="471.5" stroke="#9a9a9a" stroke-width="1" />
<line x1="240.38" y1="473.7" x2="240.38" y2="472.38" stroke="#9a9a9a" stroke-width="1" />
<line x1="271.54" y1="473.7" x2="271.54" y2="472.38" stroke="#9a9a9a" stroke-width="1" />
<line x1="302.7" y1="473.7" x2="302.7" y2="472.38" stroke="#9a9a9a" stroke-width="1" />
<line x1="216.8" y1="465.3" x2="219" y2="465.3" stroke="#9a9a9a" stroke-width="1" />
<line x1="216.8" y1="447.8" x2="219" y2="447.8" stroke="#9a9a9a" stroke-width="1" />
<line x1="216.8" y1="430.3" x2="219" y2="430.3" stroke="#9a9a9a" stroke-width="1" />
<line x1="216.8" y1="412.8" x2="219" y2="412.8" stroke="#9a9a9a" stroke-width="1" />
<line x1="216.8" y1="395.3" x2="219" y2="395.3" stroke="#9a9a9a" stroke-width="1" />
<line x1="216.8" y1="456.55" x2="218.12" y2="456.55" stroke="#9a9a9a" stroke-width="1" />
<line x1="216.8" y1="439.05" x2="218.12" y2="439.05" stroke="#9a9a9a" stroke-width="1" />
<line x1="216.8" y1="421.55" x2="218.12" y2="421.55" stroke="#9a9a9a" stroke-width="1" />
<line x1="216.8" y1="404.05" x2="218.12" y2="404.05" stroke="#9a9a9a" stroke-width="1" />
<text x="224.8" y="481.2" font-size="9" font-family="Liberation Sans" font-weight="bold" fill="#333" text-anchor="middle" >4</text>
<text x="255.96" y="481.2" font-size="9" font-family="Liberation Sans" font-weight="bold" fill="#333" text-anchor="middle" >6</text>
<text x="287.12" y="481.2" font-size="9" font-family="Liberation Sans" font-weight="bold" fill="#333" text-anchor="middle" >8</text>
<text x="318.28" y="481.2" font-size="9" font-family="Liberation Sans" font-weight="bold" fill="#333" text-anchor="middle" >10</text>
<text x="215.3" y="468.54" font-size="9" font-family="Liberation Sans" font-weight="bold" fill="#333" text-anchor="end" >0</text>
<text x="215.3" y="451.04" font-size="9" font-family="Liberation Sans" font-weight="bold" fill="#333" text-anchor="end" >1</text>
<text x="215.3" y="433.54" font-size="9" font-family="Liberation Sans" font-weight="bold" fill="#333" text-anchor="end" >2</text>
<text x="215.3" y="416.04" font-size="9" font-family="Liberation Sans" font-weight="bold" fill="#333" text-anchor="end" >3</text>
<text x="215.3" y="398.54" font-size="9" font-family="Liberation Sans" font-weight="bold" fill="#333" text-anchor="end" >4</text>
<text x="270.5" y="488.3" font-size="9.5" font-family="Liberation Sans" font-weight="bold" fill="#333" text-anchor="middle">Current <tspan font-size="7.5">(&#956;A)</tspan></text>
<text x="208.2" y="430.5" font-size="9" font-family="Liberation Sans" font-weight="bold" fill="#333" text-anchor="middle" textLength="52.6" lengthAdjust="spacingAndGlyphs" transform="rotate(-90 208.2 430.5)" >Voltage (mV)</text>
<polyline points="224.8,465.3 291.79,464.95 293.35,439.05 296.47,437.3 298.03,415.78 318.28,400.55" stroke="#101010" stroke-width="1.3" fill="none" stroke-linejoin="round" stroke-linecap="round" />
<polyline points="224.8,465.3 285.56,464.95 286.81,442.55 291.79,440.8 293.35,419.8 318.28,399.15" stroke="#ee3030" stroke-width="1.3" fill="none" stroke-linejoin="round" stroke-linecap="round" />
<polyline points="224.8,465.3 280.89,464.95 282.13,444.3 286.34,442.55 287.12,423.3 318.28,398.45" stroke="#30c030" stroke-width="1.3" fill="none" stroke-linejoin="round" stroke-linecap="round" />
<polyline points="224.8,465.3 280.11,464.95 281.2,442.55 285.56,441.15 286.34,422.43 318.28,397.93" stroke="#2020ee" stroke-width="1.3" fill="none" stroke-linejoin="round" stroke-linecap="round" />
<polyline points="224.8,465.3 276.21,464.95 277.77,446.05 279.33,443.43 280.42,425.93 318.28,396.7" stroke="#30e0f0" stroke-width="1.3" fill="none" stroke-linejoin="round" stroke-linecap="round" />
<polyline points="224.8,465.3 269.98,464.95 271.54,456.55 272.32,447.8 274.34,443.95 276.21,428.2 318.28,395.3" stroke="#ee30ee" stroke-width="1.3" fill="none" stroke-linejoin="round" stroke-linecap="round" />
<ellipse cx="286.6" cy="440.7" rx="19.7" ry="11.6" fill="none" stroke="#7040c0" stroke-width="1" stroke-dasharray="3 2" transform="rotate(-6 286.6 440.7)"/>
<line x1="220" y1="393" x2="240" y2="393" stroke="#101010" stroke-width="1.5" />
<text x="243.2" y="396.3" font-size="9.2" font-family="Liberation Sans" font-weight="bold" fill="#000" >2K</text>
<line x1="220" y1="403.6" x2="240" y2="403.6" stroke="#ee3030" stroke-width="1.5" />
<text x="243.2" y="406.9" font-size="9.2" font-family="Liberation Sans" font-weight="bold" fill="#000" >2.4K</text>
<line x1="220" y1="414.7" x2="240" y2="414.7" stroke="#30c030" stroke-width="1.5" />
<text x="243.2" y="418" font-size="9.2" font-family="Liberation Sans" font-weight="bold" fill="#000" >2.6K</text>
<line x1="220" y1="425.9" x2="240" y2="425.9" stroke="#2020ee" stroke-width="1.5" />
<text x="243.2" y="429.2" font-size="9.2" font-family="Liberation Sans" font-weight="bold" fill="#000" >2.8K</text>
<line x1="220" y1="437.3" x2="240" y2="437.3" stroke="#30e0f0" stroke-width="1.5" />
<text x="243.2" y="440.6" font-size="9.2" font-family="Liberation Sans" font-weight="bold" fill="#000" >3K</text>
<line x1="220" y1="449.5" x2="240" y2="449.5" stroke="#ee30ee" stroke-width="1.5" />
<text x="243.2" y="452.8" font-size="9.2" font-family="Liberation Sans" font-weight="bold" fill="#000" >3.2K</text>
<text x="313.7" y="468" font-size="13.5" font-family="Liberation Sans" font-weight="bold" fill="#000" textLength="16.8" lengthAdjust="spacingAndGlyphs" >N5</text>
<rect x="384.7" y="273.6" width="294.8" height="215.9" stroke="#000" stroke-width="2" fill="none"/>
<line x1="384.75" y1="489.5" x2="384.75" y2="494" stroke="#000" stroke-width="1.6" />
<line x1="424" y1="489.5" x2="424" y2="494" stroke="#000" stroke-width="1.6" />
<line x1="463.25" y1="489.5" x2="463.25" y2="494" stroke="#000" stroke-width="1.6" />
<line x1="502.5" y1="489.5" x2="502.5" y2="494" stroke="#000" stroke-width="1.6" />
<line x1="541.75" y1="489.5" x2="541.75" y2="494" stroke="#000" stroke-width="1.6" />
<line x1="581" y1="489.5" x2="581" y2="494" stroke="#000" stroke-width="1.6" />
<line x1="620.25" y1="489.5" x2="620.25" y2="494" stroke="#000" stroke-width="1.6" />
<line x1="659.5" y1="489.5" x2="659.5" y2="494" stroke="#000" stroke-width="1.6" />
<line x1="404.38" y1="489.5" x2="404.38" y2="492.3" stroke="#000" stroke-width="1.4" />
<line x1="443.62" y1="489.5" x2="443.62" y2="492.3" stroke="#000" stroke-width="1.4" />
<line x1="482.88" y1="489.5" x2="482.88" y2="492.3" stroke="#000" stroke-width="1.4" />
<line x1="522.12" y1="489.5" x2="522.12" y2="492.3" stroke="#000" stroke-width="1.4" />
<line x1="561.38" y1="489.5" x2="561.38" y2="492.3" stroke="#000" stroke-width="1.4" />
<line x1="600.62" y1="489.5" x2="600.62" y2="492.3" stroke="#000" stroke-width="1.4" />
<line x1="639.88" y1="489.5" x2="639.88" y2="492.3" stroke="#000" stroke-width="1.4" />
<line x1="384.7" y1="468" x2="380.2" y2="468" stroke="#000" stroke-width="1.6" />
<line x1="384.7" y1="424.8" x2="380.2" y2="424.8" stroke="#000" stroke-width="1.6" />
<line x1="384.7" y1="381.6" x2="380.2" y2="381.6" stroke="#000" stroke-width="1.6" />
<line x1="384.7" y1="338.4" x2="380.2" y2="338.4" stroke="#000" stroke-width="1.6" />
<line x1="384.7" y1="295.2" x2="380.2" y2="295.2" stroke="#000" stroke-width="1.6" />
<line x1="384.7" y1="446.4" x2="381.9" y2="446.4" stroke="#000" stroke-width="1.4" />
<line x1="384.7" y1="403.2" x2="381.9" y2="403.2" stroke="#000" stroke-width="1.4" />
<line x1="384.7" y1="360" x2="381.9" y2="360" stroke="#000" stroke-width="1.4" />
<line x1="384.7" y1="316.8" x2="381.9" y2="316.8" stroke="#000" stroke-width="1.4" />
<line x1="384.7" y1="489.6" x2="381.9" y2="489.6" stroke="#000" stroke-width="1.4" />
<text x="384.75" y="508.4" font-size="12.6" font-family="Liberation Sans" font-weight="bold" fill="#000" text-anchor="middle" >0.3</text>
<text x="424" y="508.4" font-size="12.6" font-family="Liberation Sans" font-weight="bold" fill="#000" text-anchor="middle" >0.4</text>
<text x="463.25" y="508.4" font-size="12.6" font-family="Liberation Sans" font-weight="bold" fill="#000" text-anchor="middle" >0.5</text>
<text x="502.5" y="508.4" font-size="12.6" font-family="Liberation Sans" font-weight="bold" fill="#000" text-anchor="middle" >0.6</text>
<text x="541.75" y="508.4" font-size="12.6" font-family="Liberation Sans" font-weight="bold" fill="#000" text-anchor="middle" >0.7</text>
<text x="581" y="508.4" font-size="12.6" font-family="Liberation Sans" font-weight="bold" fill="#000" text-anchor="middle" >0.8</text>
<text x="620.25" y="508.4" font-size="12.6" font-family="Liberation Sans" font-weight="bold" fill="#000" text-anchor="middle" >0.9</text>
<text x="659.5" y="508.4" font-size="12.6" font-family="Liberation Sans" font-weight="bold" fill="#000" text-anchor="middle" >1.0</text>
<text x="376.6" y="471.3" font-size="12.6" font-family="Liberation Sans" font-weight="bold" fill="#000" text-anchor="end" >0</text>
<text x="376.6" y="428.1" font-size="12.6" font-family="Liberation Sans" font-weight="bold" fill="#000" text-anchor="end" >2</text>
<text x="376.6" y="384.9" font-size="12.6" font-family="Liberation Sans" font-weight="bold" fill="#000" text-anchor="end" >4</text>
<text x="376.6" y="341.7" font-size="12.6" font-family="Liberation Sans" font-weight="bold" fill="#000" text-anchor="end" >6</text>
<text x="376.6" y="298.5" font-size="12.6" font-family="Liberation Sans" font-weight="bold" fill="#000" text-anchor="end" >8</text>
<text x="349.7" y="281.2" font-size="18.5" font-family="Liberation Sans" font-weight="normal" fill="#000" textLength="21.4" lengthAdjust="spacingAndGlyphs" stroke="#000" stroke-width="0.7">(d)</text>
<text x="518.3" y="524.3" font-size="16" font-family="Liberation Sans" font-weight="bold" fill="#000">T/T<tspan font-size="12" dy="4.5">C</tspan></text>
<text x="359.4" y="418.2" font-size="25" font-family="Liberation Serif" font-weight="bold" fill="#000" transform="rotate(-90 359.4 418.2)">I</text>
<text x="368.6" y="407.6" font-size="12" font-family="Liberation Sans" font-weight="bold" fill="#000" transform="rotate(-90 368.6 407.6)">C</text>
<text x="358.3" y="397.6" font-size="20.5" font-family="Liberation Sans" font-weight="bold" fill="#000" transform="rotate(-90 358.3 397.6)">(<tspan font-size="17">&#956;A</tspan>)</text>
<text x="654.9" y="485.3" font-size="15" font-family="Liberation Sans" font-weight="bold" fill="#000" textLength="21" lengthAdjust="spacingAndGlyphs" >N5</text>
<rect x="405.5" y="370" width="132.7" height="96.7" fill="#fff" stroke="#9a9a9a" stroke-width="1"/>
<line x1="412.8" y1="466.7" x2="412.8" y2="464.5" stroke="#9a9a9a" stroke-width="1" />
<line x1="429" y1="466.7" x2="429" y2="464.5" stroke="#9a9a9a" stroke-width="1" />
<line x1="445.2" y1="466.7" x2="445.2" y2="464.5" stroke="#9a9a9a" stroke-width="1" />
<line x1="461.4" y1="466.7" x2="461.4" y2="464.5" stroke="#9a9a9a" stroke-width="1" />
<line x1="477.6" y1="466.7" x2="477.6" y2="464.5" stroke="#9a9a9a" stroke-width="1" />
<line x1="493.8" y1="466.7" x2="493.8" y2="464.5" stroke="#9a9a9a" stroke-width="1" />
<line x1="510" y1="466.7" x2="510" y2="464.5" stroke="#9a9a9a" stroke-width="1" />
<line x1="526.2" y1="466.7" x2="526.2" y2="464.5" stroke="#9a9a9a" stroke-width="1" />
<line x1="420.9" y1="466.7" x2="420.9" y2="465.38" stroke="#9a9a9a" stroke-width="1" />
<line x1="437.1" y1="466.7" x2="437.1" y2="465.38" stroke="#9a9a9a" stroke-width="1" />
<line x1="453.3" y1="466.7" x2="453.3" y2="465.38" stroke="#9a9a9a" stroke-width="1" />
<line x1="469.5" y1="466.7" x2="469.5" y2="465.38" stroke="#9a9a9a" stroke-width="1" />
<line x1="485.7" y1="466.7" x2="485.7" y2="465.38" stroke="#9a9a9a" stroke-width="1" />
<line x1="501.9" y1="466.7" x2="501.9" y2="465.38" stroke="#9a9a9a" stroke-width="1" />
<line x1="518.1" y1="466.7" x2="518.1" y2="465.38" stroke="#9a9a9a" stroke-width="1" />
<line x1="534.3" y1="466.7" x2="534.3" y2="465.38" stroke="#9a9a9a" stroke-width="1" />
<line x1="405.5" y1="457.8" x2="407.7" y2="457.8" stroke="#9a9a9a" stroke-width="1" />
<line x1="405.5" y1="435.5" x2="407.7" y2="435.5" stroke="#9a9a9a" stroke-width="1" />
<line x1="405.5" y1="413.2" x2="407.7" y2="413.2" stroke="#9a9a9a" stroke-width="1" />
<line x1="405.5" y1="390.9" x2="407.7" y2="390.9" stroke="#9a9a9a" stroke-width="1" />
<line x1="405.5" y1="446.65" x2="406.82" y2="446.65" stroke="#9a9a9a" stroke-width="1" />
<line x1="405.5" y1="424.35" x2="406.82" y2="424.35" stroke="#9a9a9a" stroke-width="1" />
<line x1="405.5" y1="402.05" x2="406.82" y2="402.05" stroke="#9a9a9a" stroke-width="1" />
<line x1="405.5" y1="379.75" x2="406.82" y2="379.75" stroke="#9a9a9a" stroke-width="1" />
<text x="412.8" y="476.3" font-size="9" font-family="Liberation Sans" font-weight="bold" fill="#333" text-anchor="middle" >0</text>
<text x="429" y="476.3" font-size="9" font-family="Liberation Sans" font-weight="bold" fill="#333" text-anchor="middle" >2</text>
<text x="445.2" y="476.3" font-size="9" font-family="Liberation Sans" font-weight="bold" fill="#333" text-anchor="middle" >4</text>
<text x="461.4" y="476.3" font-size="9" font-family="Liberation Sans" font-weight="bold" fill="#333" text-anchor="middle" >6</text>
<text x="477.6" y="476.3" font-size="9" font-family="Liberation Sans" font-weight="bold" fill="#333" text-anchor="middle" >8</text>
<text x="493.8" y="476.3" font-size="9" font-family="Liberation Sans" font-weight="bold" fill="#333" text-anchor="middle" >10</text>
<text x="510" y="476.3" font-size="9" font-family="Liberation Sans" font-weight="bold" fill="#333" text-anchor="middle" >12</text>
<text x="526.2" y="476.3" font-size="9" font-family="Liberation Sans" font-weight="bold" fill="#333" text-anchor="middle" >14</text>
<text x="403.5" y="461.04" font-size="9" font-family="Liberation Sans" font-weight="bold" fill="#333" text-anchor="end" >0</text>
<text x="403.5" y="438.74" font-size="9" font-family="Liberation Sans" font-weight="bold" fill="#333" text-anchor="end" >2</text>
<text x="403.5" y="416.44" font-size="9" font-family="Liberation Sans" font-weight="bold" fill="#333" text-anchor="end" >4</text>
<text x="403.5" y="394.14" font-size="9" font-family="Liberation Sans" font-weight="bold" fill="#333" text-anchor="end" >6</text>
<text x="468.9" y="486.2" font-size="9.5" font-family="Liberation Sans" font-weight="bold" fill="#333" text-anchor="middle">Current <tspan font-size="7.5">(&#956;A)</tspan></text>
<text x="395.3" y="421.4" font-size="9" font-family="Liberation Sans" font-weight="bold" fill="#333" text-anchor="middle" textLength="61.4" lengthAdjust="spacingAndGlyphs" transform="rotate(-90 395.3 421.4)" >Voltage (mV)</text>
<polyline points="412.8,457.8 479.22,457.8 480.44,441.63 482.06,439.96 483.27,426.02 509.19,406.84 534.3,378.08" stroke="#202020" stroke-width="1.3" fill="none" stroke-linejoin="round" stroke-linecap="round" />
<polyline points="412.8,457.8 445.2,457.24 463.83,456.24 465.05,442.41 509.19,403.61 534.3,375.74" stroke="#e04050" stroke-width="1.3" fill="none" stroke-linejoin="round" stroke-linecap="round" />
<polyline points="412.8,457.8 445.2,456.91 453.3,456.46 459.78,456.13 460.59,454.45 461,443.86 463.02,441.63 509.19,400.38 534.3,372.5" stroke="#30a8a8" stroke-width="1.3" fill="none" stroke-linejoin="round" stroke-linecap="round" />
<line x1="496.2" y1="438.2" x2="515.8" y2="438.2" stroke="#202020" stroke-width="1.4" />
<text x="517.9" y="441.6" font-size="9.5" font-family="Liberation Sans" font-weight="bold" fill="#000" >0T</text>
<line x1="496.2" y1="448.9" x2="515.8" y2="448.9" stroke="#e04050" stroke-width="1.4" />
<text x="517.9" y="452.3" font-size="9.5" font-family="Liberation Sans" font-weight="bold" fill="#000" >0.5T</text>
<line x1="496.2" y1="458.8" x2="515.8" y2="458.8" stroke="#30a8a8" stroke-width="1.4" />
<text x="517.9" y="462.2" font-size="9.5" font-family="Liberation Sans" font-weight="bold" fill="#000" >1T</text>
<text x="409.9" y="384.8" font-size="14" font-family="Liberation Sans" font-weight="bold" fill="#000" textLength="19.5" lengthAdjust="spacingAndGlyphs" >N5</text>
<text x="412.8" y="451.4" font-size="15.5" font-family="Liberation Sans" font-weight="normal" fill="#000" textLength="20.3" lengthAdjust="spacingAndGlyphs" stroke="#000" stroke-width="0.6">2K</text>
<circle cx="415.2" cy="287.5" r="7.6" stroke="#1a8c1a" stroke-width="1.8" fill="none"/>
<circle cx="430.4" cy="287.5" r="7.6" stroke="#1a8c1a" stroke-width="1.8" fill="none"/>
<circle cx="445.6" cy="294.5" r="7.6" stroke="#1a8c1a" stroke-width="1.8" fill="none"/>
<circle cx="460.7" cy="302.7" r="7.6" stroke="#1a8c1a" stroke-width="1.8" fill="none"/>
<circle cx="475.9" cy="302.7" r="7.6" stroke="#1a8c1a" stroke-width="1.8" fill="none"/>
<circle cx="490.7" cy="307.4" r="7.6" stroke="#1a8c1a" stroke-width="1.8" fill="none"/>
<circle cx="505.6" cy="315.6" r="7.6" stroke="#1a8c1a" stroke-width="1.8" fill="none"/>
<circle cx="520.3" cy="326" r="7.6" stroke="#1a8c1a" stroke-width="1.8" fill="none"/>
<circle cx="534.5" cy="341.5" r="7.6" stroke="#1a8c1a" stroke-width="1.8" fill="none"/>
<circle cx="550" cy="369.6" r="7.6" stroke="#1a8c1a" stroke-width="1.8" fill="none"/>
<circle cx="565.1" cy="389.7" r="7.6" stroke="#1a8c1a" stroke-width="1.8" fill="none"/>
<circle cx="581.6" cy="407.2" r="7.6" stroke="#1a8c1a" stroke-width="1.8" fill="none"/>
<circle cx="595.1" cy="428.2" r="7.6" stroke="#1a8c1a" stroke-width="1.8" fill="none"/>
<circle cx="610.2" cy="440.2" r="7.6" stroke="#1a8c1a" stroke-width="1.8" fill="none"/>
<circle cx="625.2" cy="446.8" r="7.6" stroke="#1a8c1a" stroke-width="1.8" fill="none"/>
<circle cx="640.2" cy="458.9" r="7.6" stroke="#1a8c1a" stroke-width="1.8" fill="none"/>
<circle cx="655.3" cy="462.8" r="7.6" stroke="#1a8c1a" stroke-width="1.8" fill="none"/>
<polyline points="415.2,285.9 521,323.3" stroke="#e8502a" stroke-width="3" fill="none" stroke-linejoin="round" stroke-linecap="round" />
<polyline points="533.9,344.14 535.95,347.36 538,350.54 540.04,353.69 542.09,356.81 544.14,359.9 546.19,362.95 548.23,365.97 550.28,368.96 552.33,371.91 554.38,374.83 556.42,377.72 558.47,380.57 560.52,383.39 562.57,386.17 564.61,388.92 566.66,391.63 568.71,394.31 570.76,396.95 572.8,399.55 574.85,402.12 576.9,404.65 578.95,407.15 580.99,409.6 583.04,412.02 585.09,414.4 587.14,416.74 589.18,419.04 591.23,421.3 593.28,423.52 595.33,425.7 597.37,427.84 599.42,429.94 601.47,431.99 603.52,434 605.56,435.97 607.61,437.89 609.66,439.77 611.71,441.6 613.75,443.39 615.8,445.13 617.85,446.82 619.9,448.46 621.94,450.05 623.99,451.59 626.04,453.08 628.09,454.51 630.13,455.89 632.18,457.21 634.23,458.48 636.28,459.68 638.32,460.82 640.37,461.9 642.42,462.91 644.47,463.85 646.51,464.72 648.56,465.51 650.61,466.21 652.66,466.82 654.7,467.33 656.75,467.73" stroke="#888888" stroke-width="4.4" fill="none" stroke-linejoin="round" stroke-linecap="round" />
<text x="424.5" y="329.4" font-size="12.2" font-family="Liberation Sans" font-weight="bold" fill="#e8603a">(1-T/T<tspan font-size="8.5" dy="2.5">c</tspan><tspan dy="-2.5">)</tspan><tspan font-size="8.3" dy="-6.5">0.4</tspan></text>
<text x="609.6" y="424.6" font-size="13" font-family="Liberation Sans" font-weight="bold" fill="#a0a0a0">(1-T/T<tspan font-size="9" dy="2.5">c</tspan><tspan dy="-2.5">)</tspan><tspan font-size="9" dy="-8">1.6</tspan></text>
<rect x="574" y="278" width="102.4" height="67.9" fill="#fff" stroke="#9a9a9a" stroke-width="1"/>
<line x1="592" y1="345.9" x2="592" y2="343.7" stroke="#9a9a9a" stroke-width="1" />
<line x1="616.35" y1="345.9" x2="616.35" y2="343.7" stroke="#9a9a9a" stroke-width="1" />
<line x1="640.7" y1="345.9" x2="640.7" y2="343.7" stroke="#9a9a9a" stroke-width="1" />
<line x1="665.06" y1="345.9" x2="665.06" y2="343.7" stroke="#9a9a9a" stroke-width="1" />
<line x1="579.82" y1="345.9" x2="579.82" y2="344.58" stroke="#9a9a9a" stroke-width="1" />
<line x1="604.18" y1="345.9" x2="604.18" y2="344.58" stroke="#9a9a9a" stroke-width="1" />
<line x1="628.53" y1="345.9" x2="628.53" y2="344.58" stroke="#9a9a9a" stroke-width="1" />
<line x1="652.88" y1="345.9" x2="652.88" y2="344.58" stroke="#9a9a9a" stroke-width="1" />
<line x1="574" y1="342.4" x2="576.2" y2="342.4" stroke="#9a9a9a" stroke-width="1" />
<line x1="574" y1="326.3" x2="576.2" y2="326.3" stroke="#9a9a9a" stroke-width="1" />
<line x1="574" y1="310.2" x2="576.2" y2="310.2" stroke="#9a9a9a" stroke-width="1" />
<line x1="574" y1="294.1" x2="576.2" y2="294.1" stroke="#9a9a9a" stroke-width="1" />
<line x1="574" y1="278" x2="576.2" y2="278" stroke="#9a9a9a" stroke-width="1" />
<line x1="574" y1="334.35" x2="575.32" y2="334.35" stroke="#9a9a9a" stroke-width="1" />
<line x1="574" y1="318.25" x2="575.32" y2="318.25" stroke="#9a9a9a" stroke-width="1" />
<line x1="574" y1="302.15" x2="575.32" y2="302.15" stroke="#9a9a9a" stroke-width="1" />
<line x1="574" y1="286.05" x2="575.32" y2="286.05" stroke="#9a9a9a" stroke-width="1" />
<text x="592" y="352.6" font-size="8" font-family="Liberation Sans" font-weight="bold" fill="#333" text-anchor="middle" >0.40</text>
<text x="616.35" y="352.6" font-size="8" font-family="Liberation Sans" font-weight="bold" fill="#333" text-anchor="middle" >0.48</text>
<text x="640.7" y="352.6" font-size="8" font-family="Liberation Sans" font-weight="bold" fill="#333" text-anchor="middle" >0.56</text>
<text x="665.06" y="352.6" font-size="8" font-family="Liberation Sans" font-weight="bold" fill="#333" text-anchor="middle" >0.64</text>
<text x="573" y="345.28" font-size="8" font-family="Liberation Sans" font-weight="bold" fill="#333" text-anchor="end" >6.4</text>
<text x="573" y="329.18" font-size="8" font-family="Liberation Sans" font-weight="bold" fill="#333" text-anchor="end" >6.8</text>
<text x="573" y="313.08" font-size="8" font-family="Liberation Sans" font-weight="bold" fill="#333" text-anchor="end" >7.2</text>
<text x="573" y="296.98" font-size="8" font-family="Liberation Sans" font-weight="bold" fill="#333" text-anchor="end" >7.6</text>
<text x="573" y="280.88" font-size="8" font-family="Liberation Sans" font-weight="bold" fill="#333" text-anchor="end" >8.0</text>
<text x="614" y="359.6" font-size="8" font-family="Liberation Sans" font-weight="bold" fill="#333">T/T<tspan font-size="6.5" dy="2">C</tspan></text>
<text x="560.5" y="313.5" font-size="7.5" font-family="Liberation Sans" font-weight="bold" fill="#333" text-anchor="middle" transform="rotate(-90 560.5 313.5)"><tspan font-size="10">I</tspan><tspan font-size="7" dy="2">r</tspan><tspan dy="-2"> (&#956;A)</tspan></text>
<circle cx="583.5" cy="284.2" r="3.8" stroke="none" stroke-width="1" fill="#ff20ff"/>
<circle cx="594.8" cy="289" r="3.8" stroke="none" stroke-width="1" fill="#ff20ff"/>
<circle cx="607.2" cy="283.7" r="3.8" stroke="none" stroke-width="1" fill="#ff20ff"/>
<circle cx="618.6" cy="303.2" r="3.8" stroke="none" stroke-width="1" fill="#ff20ff"/>
<circle cx="630.9" cy="308" r="3.8" stroke="none" stroke-width="1" fill="#ff20ff"/>
<circle cx="642.7" cy="307.6" r="3.8" stroke="none" stroke-width="1" fill="#ff20ff"/>
<circle cx="655.2" cy="321.6" r="3.8" stroke="none" stroke-width="1" fill="#ff20ff"/>
<circle cx="667" cy="341.2" r="3.8" stroke="none" stroke-width="1" fill="#ff20ff"/>
<polyline points="583.5,278.5 667.9,333.6" stroke="#7a0a7a" stroke-width="3" fill="none" stroke-linejoin="round" stroke-linecap="round" />
<text x="585" y="327" font-size="10.6" font-family="Liberation Sans" font-weight="bold" fill="#9a209a">(1-T/T<tspan font-size="7.8" dy="2">C</tspan><tspan dy="-2">)</tspan><tspan font-size="7.8" dy="-4.5">0.33</tspan></text>
<text x="659" y="289" font-size="10" font-family="Liberation Sans" font-weight="bold" fill="#000" textLength="14.6" lengthAdjust="spacingAndGlyphs" >N5</text>
</svg>
</body></html>
